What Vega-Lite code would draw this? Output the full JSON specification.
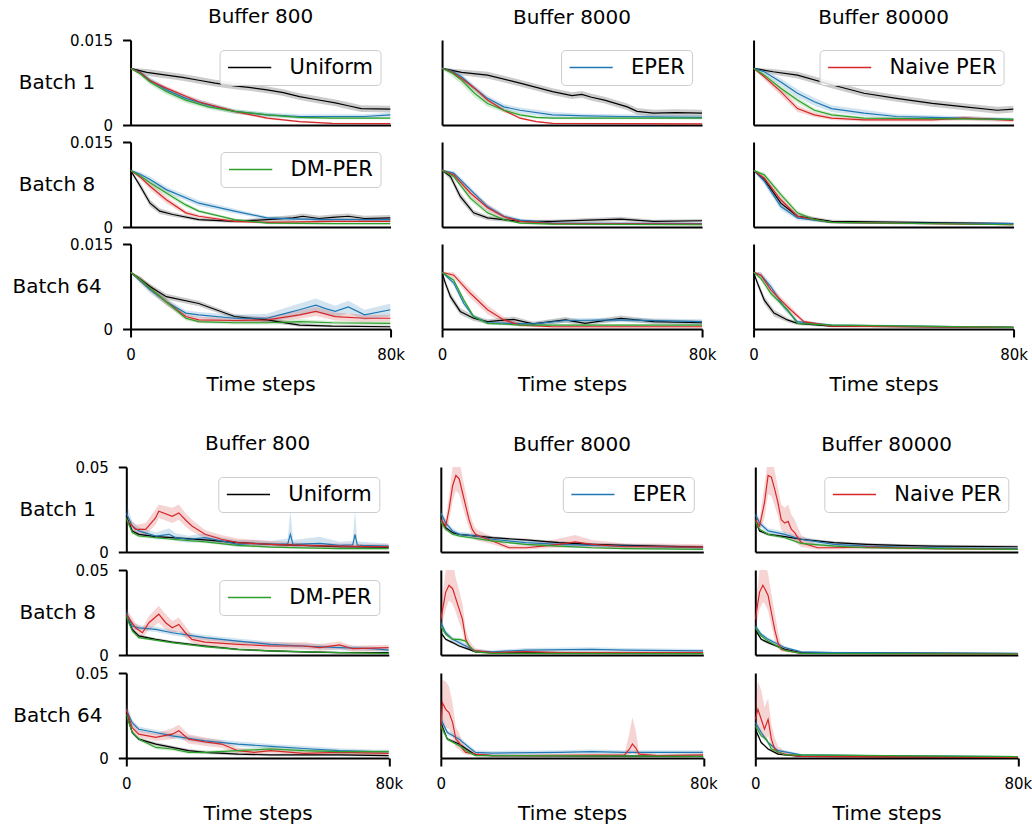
{
"$schema": "https://vega.github.io/schema/vega-lite/v6.json",
"padding": {"left": 11, "top": 7, "right": 2, "bottom": 2},
"data": {"values": [
{"p":"A11","s":"U","x":0,"y":0.01,"l":0.0099,"h":0.0101},
{"p":"A11","s":"U","x":5,"y":0.0093,"l":0.0087,"h":0.0099},
{"p":"A11","s":"U","x":11,"y":0.0088,"l":0.0082,"h":0.0094},
{"p":"A11","s":"U","x":16,"y":0.0084,"l":0.0078,"h":0.009},
{"p":"A11","s":"U","x":21,"y":0.0079,"l":0.0073,"h":0.0085},
{"p":"A11","s":"U","x":26,"y":0.0074,"l":0.0068,"h":0.008},
{"p":"A11","s":"U","x":32,"y":0.0069,"l":0.0063,"h":0.0075},
{"p":"A11","s":"U","x":37,"y":0.0066,"l":0.006,"h":0.0072},
{"p":"A11","s":"U","x":42,"y":0.0062,"l":0.0056,"h":0.0068},
{"p":"A11","s":"U","x":47,"y":0.0057,"l":0.0051,"h":0.0063},
{"p":"A11","s":"U","x":52,"y":0.005,"l":0.0044,"h":0.0056},
{"p":"A11","s":"U","x":57,"y":0.0045,"l":0.0039,"h":0.0051},
{"p":"A11","s":"U","x":63,"y":0.0039,"l":0.0033,"h":0.0045},
{"p":"A11","s":"U","x":67,"y":0.0034,"l":0.0028,"h":0.004},
{"p":"A11","s":"U","x":71,"y":0.0029,"l":0.0023,"h":0.0035},
{"p":"A11","s":"U","x":80,"y":0.0028,"l":0.0022,"h":0.0034},
{"p":"A11","s":"E","x":0,"y":0.01,"l":0.0099,"h":0.0101},
{"p":"A11","s":"E","x":3,"y":0.0093,"l":0.0089,"h":0.0097},
{"p":"A11","s":"E","x":6,"y":0.0079,"l":0.0074,"h":0.0084},
{"p":"A11","s":"E","x":11,"y":0.0062,"l":0.0057,"h":0.0067},
{"p":"A11","s":"E","x":17,"y":0.0047,"l":0.0042,"h":0.0052},
{"p":"A11","s":"E","x":24,"y":0.0035,"l":0.003,"h":0.004},
{"p":"A11","s":"E","x":32,"y":0.0024,"l":0.002,"h":0.0028},
{"p":"A11","s":"E","x":42,"y":0.0018,"l":0.0014,"h":0.0022},
{"p":"A11","s":"E","x":52,"y":0.0015,"l":0.0011,"h":0.0019},
{"p":"A11","s":"E","x":62,"y":0.0015,"l":0.0011,"h":0.0019},
{"p":"A11","s":"E","x":72,"y":0.0015,"l":0.0011,"h":0.0019},
{"p":"A11","s":"E","x":80,"y":0.0018,"l":0.0014,"h":0.0022},
{"p":"A11","s":"N","x":0,"y":0.01,"l":0.0099,"h":0.0101},
{"p":"A11","s":"N","x":3,"y":0.0092,"l":0.0089,"h":0.0095},
{"p":"A11","s":"N","x":6,"y":0.0078,"l":0.0074,"h":0.0082},
{"p":"A11","s":"N","x":11,"y":0.0065,"l":0.0061,"h":0.0069},
{"p":"A11","s":"N","x":21,"y":0.0041,"l":0.0037,"h":0.0045},
{"p":"A11","s":"N","x":32,"y":0.0024,"l":0.0021,"h":0.0027},
{"p":"A11","s":"N","x":42,"y":0.0012,"l":0.001,"h":0.0014},
{"p":"A11","s":"N","x":52,"y":0.0006,"l":0.00045,"h":0.00075},
{"p":"A11","s":"N","x":62,"y":0.0003,"l":0.0002,"h":0.0004},
{"p":"A11","s":"N","x":80,"y":0.00025,"l":0.00015,"h":0.00035},
{"p":"A11","s":"D","x":0,"y":0.01,"l":0.0099,"h":0.0101},
{"p":"A11","s":"D","x":3,"y":0.009,"l":0.0086,"h":0.0094},
{"p":"A11","s":"D","x":6,"y":0.0076,"l":0.0071,"h":0.0081},
{"p":"A11","s":"D","x":11,"y":0.0059,"l":0.0054,"h":0.0064},
{"p":"A11","s":"D","x":17,"y":0.0044,"l":0.0039,"h":0.0049},
{"p":"A11","s":"D","x":24,"y":0.0032,"l":0.0028,"h":0.0036},
{"p":"A11","s":"D","x":32,"y":0.0024,"l":0.002,"h":0.0028},
{"p":"A11","s":"D","x":42,"y":0.0018,"l":0.0015,"h":0.0021},
{"p":"A11","s":"D","x":52,"y":0.00135,"l":0.0011,"h":0.0016},
{"p":"A11","s":"D","x":62,"y":0.0012,"l":0.001,"h":0.0014},
{"p":"A11","s":"D","x":80,"y":0.0012,"l":0.001,"h":0.0014},
{"p":"A21","s":"U","x":0,"y":0.01,"l":0.0099,"h":0.0101},
{"p":"A21","s":"U","x":3,"y":0.0072,"l":0.0066,"h":0.0078},
{"p":"A21","s":"U","x":6,"y":0.0042,"l":0.0036,"h":0.0048},
{"p":"A21","s":"U","x":9,"y":0.0028,"l":0.0023,"h":0.0033},
{"p":"A21","s":"U","x":13,"y":0.0022,"l":0.0018,"h":0.0026},
{"p":"A21","s":"U","x":21,"y":0.0013,"l":0.001,"h":0.0016},
{"p":"A21","s":"U","x":32,"y":0.001,"l":0.0007,"h":0.0013},
{"p":"A21","s":"U","x":42,"y":0.0013,"l":0.0009,"h":0.0017},
{"p":"A21","s":"U","x":50,"y":0.0016,"l":0.0011,"h":0.0021},
{"p":"A21","s":"U","x":53,"y":0.0019,"l":0.0014,"h":0.0024},
{"p":"A21","s":"U","x":58,"y":0.0015,"l":0.001,"h":0.002},
{"p":"A21","s":"U","x":62,"y":0.0017,"l":0.0012,"h":0.0022},
{"p":"A21","s":"U","x":67,"y":0.0019,"l":0.0014,"h":0.0024},
{"p":"A21","s":"U","x":72,"y":0.0015,"l":0.001,"h":0.002},
{"p":"A21","s":"U","x":80,"y":0.0016,"l":0.0011,"h":0.0021},
{"p":"A21","s":"E","x":0,"y":0.01,"l":0.0099,"h":0.0101},
{"p":"A21","s":"E","x":3,"y":0.0093,"l":0.0089,"h":0.0097},
{"p":"A21","s":"E","x":6,"y":0.0084,"l":0.0079,"h":0.0089},
{"p":"A21","s":"E","x":11,"y":0.0066,"l":0.0061,"h":0.0071},
{"p":"A21","s":"E","x":21,"y":0.0042,"l":0.0037,"h":0.0047},
{"p":"A21","s":"E","x":32,"y":0.0028,"l":0.0024,"h":0.0032},
{"p":"A21","s":"E","x":42,"y":0.0016,"l":0.0013,"h":0.0019},
{"p":"A21","s":"E","x":52,"y":0.0014,"l":0.0011,"h":0.0017},
{"p":"A21","s":"E","x":62,"y":0.0013,"l":0.001,"h":0.0016},
{"p":"A21","s":"E","x":80,"y":0.0013,"l":0.001,"h":0.0016},
{"p":"A21","s":"N","x":0,"y":0.01,"l":0.0099,"h":0.0101},
{"p":"A21","s":"N","x":3,"y":0.0088,"l":0.0084,"h":0.0092},
{"p":"A21","s":"N","x":6,"y":0.0072,"l":0.0066,"h":0.0078},
{"p":"A21","s":"N","x":11,"y":0.0048,"l":0.0042,"h":0.0054},
{"p":"A21","s":"N","x":17,"y":0.0025,"l":0.0021,"h":0.0029},
{"p":"A21","s":"N","x":21,"y":0.0019,"l":0.0016,"h":0.0022},
{"p":"A21","s":"N","x":32,"y":0.001,"l":0.0008,"h":0.0012},
{"p":"A21","s":"N","x":42,"y":0.0008,"l":0.0006,"h":0.001},
{"p":"A21","s":"N","x":62,"y":0.001,"l":0.0008,"h":0.0012},
{"p":"A21","s":"N","x":80,"y":0.001,"l":0.0008,"h":0.0012},
{"p":"A21","s":"D","x":0,"y":0.01,"l":0.0099,"h":0.0101},
{"p":"A21","s":"D","x":3,"y":0.009,"l":0.0086,"h":0.0094},
{"p":"A21","s":"D","x":6,"y":0.0078,"l":0.0073,"h":0.0083},
{"p":"A21","s":"D","x":11,"y":0.006,"l":0.0055,"h":0.0065},
{"p":"A21","s":"D","x":17,"y":0.0039,"l":0.0035,"h":0.0043},
{"p":"A21","s":"D","x":21,"y":0.0028,"l":0.0025,"h":0.0031},
{"p":"A21","s":"D","x":32,"y":0.0013,"l":0.0011,"h":0.0015},
{"p":"A21","s":"D","x":42,"y":0.0007,"l":0.0005,"h":0.0009},
{"p":"A21","s":"D","x":62,"y":0.0006,"l":0.0004,"h":0.0008},
{"p":"A21","s":"D","x":80,"y":0.0006,"l":0.0004,"h":0.0008},
{"p":"A31","s":"U","x":0,"y":0.01,"l":0.0099,"h":0.0101},
{"p":"A31","s":"U","x":3,"y":0.0088,"l":0.0084,"h":0.0092},
{"p":"A31","s":"U","x":6,"y":0.0075,"l":0.007,"h":0.008},
{"p":"A31","s":"U","x":11,"y":0.0057,"l":0.0052,"h":0.0062},
{"p":"A31","s":"U","x":21,"y":0.0045,"l":0.004,"h":0.005},
{"p":"A31","s":"U","x":32,"y":0.0022,"l":0.0018,"h":0.0026},
{"p":"A31","s":"U","x":42,"y":0.0016,"l":0.0012,"h":0.002},
{"p":"A31","s":"U","x":52,"y":0.0007,"l":0.0004,"h":0.001},
{"p":"A31","s":"U","x":62,"y":0.0005,"l":0.0003,"h":0.0007},
{"p":"A31","s":"U","x":80,"y":0.0004,"l":0.0002,"h":0.0006},
{"p":"A31","s":"E","x":0,"y":0.01,"l":0.0099,"h":0.0101},
{"p":"A31","s":"E","x":3,"y":0.0085,"l":0.008,"h":0.009},
{"p":"A31","s":"E","x":6,"y":0.0069,"l":0.0063,"h":0.0075},
{"p":"A31","s":"E","x":11,"y":0.0048,"l":0.0042,"h":0.0054},
{"p":"A31","s":"E","x":17,"y":0.0028,"l":0.0023,"h":0.0033},
{"p":"A31","s":"E","x":21,"y":0.0025,"l":0.002,"h":0.003},
{"p":"A31","s":"E","x":32,"y":0.0019,"l":0.0013,"h":0.0025},
{"p":"A31","s":"E","x":42,"y":0.0019,"l":0.0011,"h":0.0027},
{"p":"A31","s":"E","x":48,"y":0.0028,"l":0.0018,"h":0.0038},
{"p":"A31","s":"E","x":52,"y":0.0034,"l":0.0023,"h":0.0045},
{"p":"A31","s":"E","x":57,"y":0.0042,"l":0.003,"h":0.0054},
{"p":"A31","s":"E","x":60,"y":0.0036,"l":0.0025,"h":0.0047},
{"p":"A31","s":"E","x":63,"y":0.0031,"l":0.0021,"h":0.0041},
{"p":"A31","s":"E","x":67,"y":0.0039,"l":0.0028,"h":0.005},
{"p":"A31","s":"E","x":72,"y":0.0025,"l":0.0016,"h":0.0034},
{"p":"A31","s":"E","x":80,"y":0.0034,"l":0.0023,"h":0.0045},
{"p":"A31","s":"N","x":0,"y":0.01,"l":0.0099,"h":0.0101},
{"p":"A31","s":"N","x":3,"y":0.0087,"l":0.0082,"h":0.0092},
{"p":"A31","s":"N","x":6,"y":0.0072,"l":0.0066,"h":0.0078},
{"p":"A31","s":"N","x":11,"y":0.0048,"l":0.0042,"h":0.0054},
{"p":"A31","s":"N","x":17,"y":0.0022,"l":0.0017,"h":0.0027},
{"p":"A31","s":"N","x":21,"y":0.0016,"l":0.0011,"h":0.0021},
{"p":"A31","s":"N","x":32,"y":0.0015,"l":0.001,"h":0.002},
{"p":"A31","s":"N","x":42,"y":0.0016,"l":0.001,"h":0.0022},
{"p":"A31","s":"N","x":52,"y":0.0025,"l":0.0018,"h":0.0032},
{"p":"A31","s":"N","x":57,"y":0.0031,"l":0.0023,"h":0.0039},
{"p":"A31","s":"N","x":63,"y":0.0022,"l":0.0015,"h":0.0029},
{"p":"A31","s":"N","x":72,"y":0.0019,"l":0.0013,"h":0.0025},
{"p":"A31","s":"N","x":80,"y":0.0019,"l":0.0013,"h":0.0025},
{"p":"A31","s":"D","x":0,"y":0.01,"l":0.0099,"h":0.0101},
{"p":"A31","s":"D","x":3,"y":0.0087,"l":0.0082,"h":0.0092},
{"p":"A31","s":"D","x":6,"y":0.0072,"l":0.0067,"h":0.0077},
{"p":"A31","s":"D","x":11,"y":0.0048,"l":0.0043,"h":0.0053},
{"p":"A31","s":"D","x":17,"y":0.0019,"l":0.0015,"h":0.0023},
{"p":"A31","s":"D","x":21,"y":0.0013,"l":0.001,"h":0.0016},
{"p":"A31","s":"D","x":32,"y":0.0011,"l":0.0008,"h":0.0014},
{"p":"A31","s":"D","x":42,"y":0.0011,"l":0.0008,"h":0.0014},
{"p":"A31","s":"D","x":52,"y":0.0013,"l":0.0009,"h":0.0017},
{"p":"A31","s":"D","x":62,"y":0.0011,"l":0.0008,"h":0.0014},
{"p":"A31","s":"D","x":80,"y":0.001,"l":0.0007,"h":0.0013},
{"p":"A12","s":"U","x":0,"y":0.01,"l":0.0099,"h":0.0101},
{"p":"A12","s":"U","x":6,"y":0.0093,"l":0.0088,"h":0.0098},
{"p":"A12","s":"U","x":14,"y":0.0088,"l":0.0082,"h":0.0094},
{"p":"A12","s":"U","x":24,"y":0.0074,"l":0.0068,"h":0.008},
{"p":"A12","s":"U","x":34,"y":0.0059,"l":0.0053,"h":0.0065},
{"p":"A12","s":"U","x":40,"y":0.0052,"l":0.0046,"h":0.0058},
{"p":"A12","s":"U","x":43,"y":0.0054,"l":0.0048,"h":0.006},
{"p":"A12","s":"U","x":46,"y":0.0049,"l":0.0043,"h":0.0055},
{"p":"A12","s":"U","x":50,"y":0.0044,"l":0.0038,"h":0.005},
{"p":"A12","s":"U","x":57,"y":0.0032,"l":0.0026,"h":0.0038},
{"p":"A12","s":"U","x":60,"y":0.0024,"l":0.0018,"h":0.003},
{"p":"A12","s":"U","x":65,"y":0.0021,"l":0.0015,"h":0.0027},
{"p":"A12","s":"U","x":72,"y":0.0022,"l":0.0016,"h":0.0028},
{"p":"A12","s":"U","x":80,"y":0.0021,"l":0.0015,"h":0.0027},
{"p":"A12","s":"E","x":0,"y":0.01,"l":0.0099,"h":0.0101},
{"p":"A12","s":"E","x":3,"y":0.0095,"l":0.0091,"h":0.0099},
{"p":"A12","s":"E","x":6,"y":0.0085,"l":0.008,"h":0.009},
{"p":"A12","s":"E","x":10,"y":0.0065,"l":0.006,"h":0.007},
{"p":"A12","s":"E","x":14,"y":0.0047,"l":0.0042,"h":0.0052},
{"p":"A12","s":"E","x":19,"y":0.0032,"l":0.0027,"h":0.0037},
{"p":"A12","s":"E","x":24,"y":0.0026,"l":0.0021,"h":0.0031},
{"p":"A12","s":"E","x":34,"y":0.0018,"l":0.0013,"h":0.0023},
{"p":"A12","s":"E","x":44,"y":0.0016,"l":0.0012,"h":0.002},
{"p":"A12","s":"E","x":55,"y":0.0015,"l":0.0011,"h":0.0019},
{"p":"A12","s":"E","x":80,"y":0.00135,"l":0.001,"h":0.0017},
{"p":"A12","s":"N","x":0,"y":0.01,"l":0.0099,"h":0.0101},
{"p":"A12","s":"N","x":3,"y":0.0094,"l":0.0091,"h":0.0097},
{"p":"A12","s":"N","x":6,"y":0.0082,"l":0.0078,"h":0.0086},
{"p":"A12","s":"N","x":10,"y":0.0065,"l":0.0061,"h":0.0069},
{"p":"A12","s":"N","x":14,"y":0.0044,"l":0.004,"h":0.0048},
{"p":"A12","s":"N","x":19,"y":0.0026,"l":0.0023,"h":0.0029},
{"p":"A12","s":"N","x":24,"y":0.0012,"l":0.001,"h":0.0014},
{"p":"A12","s":"N","x":29,"y":0.0006,"l":0.00045,"h":0.00075},
{"p":"A12","s":"N","x":34,"y":0.0003,"l":0.0002,"h":0.0004},
{"p":"A12","s":"N","x":80,"y":0.0002,"l":0.0001,"h":0.0003},
{"p":"A12","s":"D","x":0,"y":0.01,"l":0.0099,"h":0.0101},
{"p":"A12","s":"D","x":3,"y":0.0092,"l":0.0086,"h":0.0098},
{"p":"A12","s":"D","x":6,"y":0.0079,"l":0.0072,"h":0.0086},
{"p":"A12","s":"D","x":10,"y":0.0056,"l":0.0049,"h":0.0063},
{"p":"A12","s":"D","x":14,"y":0.0038,"l":0.0032,"h":0.0044},
{"p":"A12","s":"D","x":19,"y":0.0026,"l":0.0022,"h":0.003},
{"p":"A12","s":"D","x":24,"y":0.0018,"l":0.0015,"h":0.0021},
{"p":"A12","s":"D","x":29,"y":0.00135,"l":0.0011,"h":0.0016},
{"p":"A12","s":"D","x":34,"y":0.0012,"l":0.001,"h":0.0014},
{"p":"A12","s":"D","x":80,"y":0.0012,"l":0.001,"h":0.0014},
{"p":"A22","s":"U","x":0,"y":0.01,"l":0.0099,"h":0.0101},
{"p":"A22","s":"U","x":2.6,"y":0.0089,"l":0.0083,"h":0.0095},
{"p":"A22","s":"U","x":5.6,"y":0.0054,"l":0.0047,"h":0.0061},
{"p":"A22","s":"U","x":9.7,"y":0.0025,"l":0.002,"h":0.003},
{"p":"A22","s":"U","x":14,"y":0.0016,"l":0.0012,"h":0.002},
{"p":"A22","s":"U","x":24,"y":0.001,"l":0.0007,"h":0.0013},
{"p":"A22","s":"U","x":34,"y":0.001,"l":0.0007,"h":0.0013},
{"p":"A22","s":"U","x":45,"y":0.0012,"l":0.0008,"h":0.0016},
{"p":"A22","s":"U","x":55,"y":0.0014,"l":0.001,"h":0.0018},
{"p":"A22","s":"U","x":65,"y":0.001,"l":0.0007,"h":0.0013},
{"p":"A22","s":"U","x":80,"y":0.0011,"l":0.0008,"h":0.0014},
{"p":"A22","s":"E","x":0,"y":0.01,"l":0.0099,"h":0.0101},
{"p":"A22","s":"E","x":3.6,"y":0.0095,"l":0.0091,"h":0.0099},
{"p":"A22","s":"E","x":8.7,"y":0.0066,"l":0.0061,"h":0.0071},
{"p":"A22","s":"E","x":14,"y":0.0036,"l":0.0031,"h":0.0041},
{"p":"A22","s":"E","x":19,"y":0.0019,"l":0.0015,"h":0.0023},
{"p":"A22","s":"E","x":24,"y":0.0012,"l":0.0009,"h":0.0015},
{"p":"A22","s":"E","x":34,"y":0.0007,"l":0.0005,"h":0.0009},
{"p":"A22","s":"E","x":80,"y":0.0006,"l":0.0004,"h":0.0008},
{"p":"A22","s":"N","x":0,"y":0.01,"l":0.0099,"h":0.0101},
{"p":"A22","s":"N","x":3.6,"y":0.0092,"l":0.0088,"h":0.0096},
{"p":"A22","s":"N","x":8.7,"y":0.006,"l":0.0054,"h":0.0066},
{"p":"A22","s":"N","x":14,"y":0.0034,"l":0.0028,"h":0.004},
{"p":"A22","s":"N","x":19,"y":0.0018,"l":0.0014,"h":0.0022},
{"p":"A22","s":"N","x":24,"y":0.001,"l":0.0008,"h":0.0012},
{"p":"A22","s":"N","x":34,"y":0.0006,"l":0.0004,"h":0.0008},
{"p":"A22","s":"N","x":80,"y":0.0005,"l":0.0003,"h":0.0007},
{"p":"A22","s":"D","x":0,"y":0.01,"l":0.0099,"h":0.0101},
{"p":"A22","s":"D","x":3.6,"y":0.0089,"l":0.0085,"h":0.0093},
{"p":"A22","s":"D","x":8.7,"y":0.0051,"l":0.0046,"h":0.0056},
{"p":"A22","s":"D","x":14,"y":0.0025,"l":0.0021,"h":0.0029},
{"p":"A22","s":"D","x":19,"y":0.0013,"l":0.0011,"h":0.0015},
{"p":"A22","s":"D","x":24,"y":0.0007,"l":0.0005,"h":0.0009},
{"p":"A22","s":"D","x":34,"y":0.0005,"l":0.0003,"h":0.0007},
{"p":"A22","s":"D","x":80,"y":0.0004,"l":0.0002,"h":0.0006},
{"p":"A32","s":"U","x":0,"y":0.01,"l":0.0099,"h":0.0101},
{"p":"A32","s":"U","x":1,"y":0.0081,"l":0.0075,"h":0.0087},
{"p":"A32","s":"U","x":2.6,"y":0.0057,"l":0.005,"h":0.0064},
{"p":"A32","s":"U","x":5.6,"y":0.0031,"l":0.0025,"h":0.0037},
{"p":"A32","s":"U","x":9.7,"y":0.0019,"l":0.0014,"h":0.0024},
{"p":"A32","s":"U","x":14,"y":0.0013,"l":0.0009,"h":0.0017},
{"p":"A32","s":"U","x":22,"y":0.0017,"l":0.0012,"h":0.0022},
{"p":"A32","s":"U","x":28,"y":0.0009,"l":0.0005,"h":0.0013},
{"p":"A32","s":"U","x":38,"y":0.0016,"l":0.0011,"h":0.0021},
{"p":"A32","s":"U","x":44,"y":0.001,"l":0.0006,"h":0.0014},
{"p":"A32","s":"U","x":55,"y":0.0019,"l":0.0014,"h":0.0024},
{"p":"A32","s":"U","x":65,"y":0.0013,"l":0.0009,"h":0.0017},
{"p":"A32","s":"U","x":80,"y":0.0011,"l":0.0007,"h":0.0015},
{"p":"A32","s":"E","x":0,"y":0.01,"l":0.0099,"h":0.0101},
{"p":"A32","s":"E","x":3.6,"y":0.0081,"l":0.0076,"h":0.0086},
{"p":"A32","s":"E","x":6.7,"y":0.0045,"l":0.004,"h":0.005},
{"p":"A32","s":"E","x":9.7,"y":0.0022,"l":0.0018,"h":0.0026},
{"p":"A32","s":"E","x":14,"y":0.0011,"l":0.0008,"h":0.0014},
{"p":"A32","s":"E","x":28,"y":0.0009,"l":0.0006,"h":0.0012},
{"p":"A32","s":"E","x":38,"y":0.0015,"l":0.0011,"h":0.0019},
{"p":"A32","s":"E","x":55,"y":0.0016,"l":0.0012,"h":0.002},
{"p":"A32","s":"E","x":80,"y":0.0013,"l":0.0009,"h":0.0017},
{"p":"A32","s":"N","x":0,"y":0.01,"l":0.0099,"h":0.0101},
{"p":"A32","s":"N","x":3.6,"y":0.0095,"l":0.009,"h":0.01},
{"p":"A32","s":"N","x":8.7,"y":0.0063,"l":0.0055,"h":0.0071},
{"p":"A32","s":"N","x":14,"y":0.0034,"l":0.0026,"h":0.0042},
{"p":"A32","s":"N","x":19,"y":0.0016,"l":0.0011,"h":0.0021},
{"p":"A32","s":"N","x":24,"y":0.0007,"l":0.0004,"h":0.001},
{"p":"A32","s":"N","x":34,"y":0.0004,"l":0.0002,"h":0.0006},
{"p":"A32","s":"N","x":80,"y":0.0004,"l":0.0002,"h":0.0006},
{"p":"A32","s":"D","x":0,"y":0.01,"l":0.0099,"h":0.0101},
{"p":"A32","s":"D","x":3.6,"y":0.0086,"l":0.0082,"h":0.009},
{"p":"A32","s":"D","x":6.7,"y":0.0051,"l":0.0047,"h":0.0055},
{"p":"A32","s":"D","x":9.7,"y":0.0022,"l":0.0019,"h":0.0025},
{"p":"A32","s":"D","x":14,"y":0.001,"l":0.0008,"h":0.0012},
{"p":"A32","s":"D","x":24,"y":0.0007,"l":0.0005,"h":0.0009},
{"p":"A32","s":"D","x":80,"y":0.0007,"l":0.0005,"h":0.0009},
{"p":"A13","s":"U","x":0,"y":0.01,"l":0.0099,"h":0.0101},
{"p":"A13","s":"U","x":6,"y":0.0094,"l":0.0089,"h":0.0099},
{"p":"A13","s":"U","x":13.5,"y":0.0088,"l":0.0082,"h":0.0094},
{"p":"A13","s":"U","x":24,"y":0.0071,"l":0.0065,"h":0.0077},
{"p":"A13","s":"U","x":34,"y":0.0056,"l":0.005,"h":0.0062},
{"p":"A13","s":"U","x":44,"y":0.0047,"l":0.0041,"h":0.0053},
{"p":"A13","s":"U","x":55,"y":0.0038,"l":0.0032,"h":0.0044},
{"p":"A13","s":"U","x":65,"y":0.0032,"l":0.0026,"h":0.0038},
{"p":"A13","s":"U","x":75,"y":0.0026,"l":0.002,"h":0.0032},
{"p":"A13","s":"U","x":80,"y":0.0028,"l":0.0022,"h":0.0034},
{"p":"A13","s":"E","x":0,"y":0.01,"l":0.0099,"h":0.0101},
{"p":"A13","s":"E","x":3.3,"y":0.0094,"l":0.009,"h":0.0098},
{"p":"A13","s":"E","x":8.4,"y":0.0076,"l":0.007,"h":0.0082},
{"p":"A13","s":"E","x":13.5,"y":0.0056,"l":0.0049,"h":0.0063},
{"p":"A13","s":"E","x":18.7,"y":0.0041,"l":0.0034,"h":0.0048},
{"p":"A13","s":"E","x":24,"y":0.0029,"l":0.0023,"h":0.0035},
{"p":"A13","s":"E","x":34,"y":0.0021,"l":0.0015,"h":0.0027},
{"p":"A13","s":"E","x":44,"y":0.0015,"l":0.0011,"h":0.0019},
{"p":"A13","s":"E","x":55,"y":0.00135,"l":0.001,"h":0.0017},
{"p":"A13","s":"E","x":80,"y":0.001,"l":0.0007,"h":0.0013},
{"p":"A13","s":"N","x":0,"y":0.01,"l":0.0099,"h":0.0101},
{"p":"A13","s":"N","x":3.3,"y":0.0085,"l":0.008,"h":0.009},
{"p":"A13","s":"N","x":8.4,"y":0.0059,"l":0.0052,"h":0.0066},
{"p":"A13","s":"N","x":13.5,"y":0.0029,"l":0.0023,"h":0.0035},
{"p":"A13","s":"N","x":18.7,"y":0.0018,"l":0.0014,"h":0.0022},
{"p":"A13","s":"N","x":24,"y":0.0012,"l":0.0009,"h":0.0015},
{"p":"A13","s":"N","x":34,"y":0.0009,"l":0.0006,"h":0.0012},
{"p":"A13","s":"N","x":55,"y":0.0009,"l":0.0006,"h":0.0012},
{"p":"A13","s":"N","x":65,"y":0.0012,"l":0.0008,"h":0.0016},
{"p":"A13","s":"N","x":80,"y":0.0008,"l":0.0005,"h":0.0011},
{"p":"A13","s":"D","x":0,"y":0.01,"l":0.0099,"h":0.0101},
{"p":"A13","s":"D","x":3.3,"y":0.0088,"l":0.0084,"h":0.0092},
{"p":"A13","s":"D","x":8.4,"y":0.0065,"l":0.006,"h":0.007},
{"p":"A13","s":"D","x":13.5,"y":0.0044,"l":0.0039,"h":0.0049},
{"p":"A13","s":"D","x":18.7,"y":0.0026,"l":0.0022,"h":0.003},
{"p":"A13","s":"D","x":24,"y":0.0018,"l":0.0015,"h":0.0021},
{"p":"A13","s":"D","x":34,"y":0.0012,"l":0.001,"h":0.0014},
{"p":"A13","s":"D","x":80,"y":0.001,"l":0.0008,"h":0.0012},
{"p":"A23","s":"U","x":0,"y":0.01,"l":0.0099,"h":0.0101},
{"p":"A23","s":"U","x":3.3,"y":0.0084,"l":0.0079,"h":0.0089},
{"p":"A23","s":"U","x":8.4,"y":0.0042,"l":0.0036,"h":0.0048},
{"p":"A23","s":"U","x":13.5,"y":0.0019,"l":0.0015,"h":0.0023},
{"p":"A23","s":"U","x":24,"y":0.001,"l":0.0007,"h":0.0013},
{"p":"A23","s":"U","x":80,"y":0.0006,"l":0.0004,"h":0.0008},
{"p":"A23","s":"E","x":0,"y":0.01,"l":0.0099,"h":0.0101},
{"p":"A23","s":"E","x":3.3,"y":0.0081,"l":0.0075,"h":0.0087},
{"p":"A23","s":"E","x":8.4,"y":0.0036,"l":0.003,"h":0.0042},
{"p":"A23","s":"E","x":13.5,"y":0.0016,"l":0.0012,"h":0.002},
{"p":"A23","s":"E","x":24,"y":0.0008,"l":0.0006,"h":0.001},
{"p":"A23","s":"E","x":44,"y":0.0007,"l":0.0005,"h":0.0009},
{"p":"A23","s":"E","x":80,"y":0.0006,"l":0.0004,"h":0.0008},
{"p":"A23","s":"N","x":0,"y":0.01,"l":0.0099,"h":0.0101},
{"p":"A23","s":"N","x":3.3,"y":0.0086,"l":0.0081,"h":0.0091},
{"p":"A23","s":"N","x":8.4,"y":0.0048,"l":0.0042,"h":0.0054},
{"p":"A23","s":"N","x":13.5,"y":0.0019,"l":0.0015,"h":0.0023},
{"p":"A23","s":"N","x":24,"y":0.0008,"l":0.0006,"h":0.001},
{"p":"A23","s":"N","x":80,"y":0.0004,"l":0.0003,"h":0.0005},
{"p":"A23","s":"D","x":0,"y":0.01,"l":0.0099,"h":0.0101},
{"p":"A23","s":"D","x":3.3,"y":0.0092,"l":0.0088,"h":0.0096},
{"p":"A23","s":"D","x":8.4,"y":0.0057,"l":0.0052,"h":0.0062},
{"p":"A23","s":"D","x":13.5,"y":0.0025,"l":0.0021,"h":0.0029},
{"p":"A23","s":"D","x":18.7,"y":0.0013,"l":0.001,"h":0.0016},
{"p":"A23","s":"D","x":24,"y":0.0008,"l":0.0006,"h":0.001},
{"p":"A23","s":"D","x":80,"y":0.0004,"l":0.0003,"h":0.0005},
{"p":"A33","s":"U","x":0,"y":0.01,"l":0.0099,"h":0.0101},
{"p":"A33","s":"U","x":1.2,"y":0.0081,"l":0.0075,"h":0.0087},
{"p":"A33","s":"U","x":3.3,"y":0.0051,"l":0.0044,"h":0.0058},
{"p":"A33","s":"U","x":6.3,"y":0.0028,"l":0.0022,"h":0.0034},
{"p":"A33","s":"U","x":10.4,"y":0.0016,"l":0.0012,"h":0.002},
{"p":"A33","s":"U","x":13.5,"y":0.001,"l":0.0007,"h":0.0013},
{"p":"A33","s":"U","x":24,"y":0.0005,"l":0.0003,"h":0.0007},
{"p":"A33","s":"U","x":80,"y":0.0003,"l":0.0002,"h":0.0004},
{"p":"A33","s":"E","x":0,"y":0.01,"l":0.0099,"h":0.0101},
{"p":"A33","s":"E","x":2.3,"y":0.0095,"l":0.009,"h":0.01},
{"p":"A33","s":"E","x":5.3,"y":0.0075,"l":0.0069,"h":0.0081},
{"p":"A33","s":"E","x":9.4,"y":0.0039,"l":0.0033,"h":0.0045},
{"p":"A33","s":"E","x":13.5,"y":0.0013,"l":0.001,"h":0.0016},
{"p":"A33","s":"E","x":24,"y":0.0007,"l":0.0005,"h":0.0009},
{"p":"A33","s":"E","x":80,"y":0.0003,"l":0.0002,"h":0.0004},
{"p":"A33","s":"N","x":0,"y":0.01,"l":0.0099,"h":0.0101},
{"p":"A33","s":"N","x":2.3,"y":0.0095,"l":0.009,"h":0.01},
{"p":"A33","s":"N","x":5.3,"y":0.0069,"l":0.0063,"h":0.0075},
{"p":"A33","s":"N","x":8.4,"y":0.0051,"l":0.0045,"h":0.0057},
{"p":"A33","s":"N","x":11.4,"y":0.0034,"l":0.0028,"h":0.004},
{"p":"A33","s":"N","x":15.5,"y":0.0013,"l":0.001,"h":0.0016},
{"p":"A33","s":"N","x":24,"y":0.0005,"l":0.0003,"h":0.0007},
{"p":"A33","s":"N","x":80,"y":0.0003,"l":0.0002,"h":0.0004},
{"p":"A33","s":"D","x":0,"y":0.01,"l":0.0099,"h":0.0101},
{"p":"A33","s":"D","x":2.3,"y":0.0089,"l":0.0085,"h":0.0093},
{"p":"A33","s":"D","x":5.3,"y":0.0063,"l":0.0058,"h":0.0068},
{"p":"A33","s":"D","x":10.4,"y":0.0034,"l":0.003,"h":0.0038},
{"p":"A33","s":"D","x":13.5,"y":0.001,"l":0.0008,"h":0.0012},
{"p":"A33","s":"D","x":24,"y":0.0007,"l":0.0005,"h":0.0009},
{"p":"A33","s":"D","x":80,"y":0.0003,"l":0.0002,"h":0.0004},
{"p":"B11","s":"U","x":0,"y":0.021,"l":0.019,"h":0.023},
{"p":"B11","s":"U","x":1.8,"y":0.0124,"l":0.0114,"h":0.0134},
{"p":"B11","s":"U","x":3.8,"y":0.0104,"l":0.0096,"h":0.0112},
{"p":"B11","s":"U","x":9,"y":0.009,"l":0.0082,"h":0.0098},
{"p":"B11","s":"U","x":14,"y":0.0084,"l":0.0076,"h":0.0092},
{"p":"B11","s":"U","x":24,"y":0.0071,"l":0.0063,"h":0.0079},
{"p":"B11","s":"U","x":34,"y":0.0055,"l":0.0047,"h":0.0063},
{"p":"B11","s":"U","x":44,"y":0.0045,"l":0.0037,"h":0.0053},
{"p":"B11","s":"U","x":54,"y":0.0039,"l":0.0031,"h":0.0047},
{"p":"B11","s":"U","x":65,"y":0.0031,"l":0.0023,"h":0.0039},
{"p":"B11","s":"U","x":80,"y":0.0029,"l":0.0021,"h":0.0037},
{"p":"B11","s":"E","x":0,"y":0.023,"l":0.019,"h":0.029},
{"p":"B11","s":"E","x":1.8,"y":0.0153,"l":0.013,"h":0.018},
{"p":"B11","s":"E","x":3.8,"y":0.0124,"l":0.0105,"h":0.0145},
{"p":"B11","s":"E","x":9,"y":0.0094,"l":0.0075,"h":0.0115},
{"p":"B11","s":"E","x":13,"y":0.0104,"l":0.008,"h":0.014},
{"p":"B11","s":"E","x":15,"y":0.0085,"l":0.0065,"h":0.011},
{"p":"B11","s":"E","x":19,"y":0.0075,"l":0.0055,"h":0.0095},
{"p":"B11","s":"E","x":24,"y":0.0084,"l":0.006,"h":0.011},
{"p":"B11","s":"E","x":29,"y":0.0065,"l":0.0045,"h":0.0085},
{"p":"B11","s":"E","x":34,"y":0.0045,"l":0.003,"h":0.007},
{"p":"B11","s":"E","x":39,"y":0.0051,"l":0.0035,"h":0.007},
{"p":"B11","s":"E","x":44,"y":0.0045,"l":0.003,"h":0.0065},
{"p":"B11","s":"E","x":49.2,"y":0.0048,"l":0.003,"h":0.008},
{"p":"B11","s":"E","x":50,"y":0.0104,"l":0.005,"h":0.025},
{"p":"B11","s":"E","x":50.8,"y":0.0045,"l":0.003,"h":0.007},
{"p":"B11","s":"E","x":59,"y":0.0051,"l":0.003,"h":0.009},
{"p":"B11","s":"E","x":65,"y":0.0039,"l":0.0025,"h":0.006},
{"p":"B11","s":"E","x":69,"y":0.0042,"l":0.0028,"h":0.0065},
{"p":"B11","s":"E","x":69.7,"y":0.0104,"l":0.005,"h":0.025},
{"p":"B11","s":"E","x":70.4,"y":0.0041,"l":0.0027,"h":0.0063},
{"p":"B11","s":"E","x":72,"y":0.0039,"l":0.0025,"h":0.006},
{"p":"B11","s":"E","x":80,"y":0.0035,"l":0.002,"h":0.005},
{"p":"B11","s":"N","x":0,"y":0.019,"l":0.017,"h":0.022},
{"p":"B11","s":"N","x":2.8,"y":0.0133,"l":0.011,"h":0.016},
{"p":"B11","s":"N","x":5.9,"y":0.0133,"l":0.01,"h":0.017},
{"p":"B11","s":"N","x":8.9,"y":0.02,"l":0.016,"h":0.025},
{"p":"B11","s":"N","x":9.9,"y":0.024,"l":0.02,"h":0.028},
{"p":"B11","s":"N","x":14,"y":0.021,"l":0.017,"h":0.026},
{"p":"B11","s":"N","x":16,"y":0.023,"l":0.019,"h":0.028},
{"p":"B11","s":"N","x":18,"y":0.019,"l":0.015,"h":0.023},
{"p":"B11","s":"N","x":20,"y":0.0153,"l":0.012,"h":0.019},
{"p":"B11","s":"N","x":24,"y":0.0104,"l":0.008,"h":0.013},
{"p":"B11","s":"N","x":29,"y":0.0075,"l":0.005,"h":0.01},
{"p":"B11","s":"N","x":34,"y":0.0055,"l":0.004,"h":0.008},
{"p":"B11","s":"N","x":44,"y":0.0045,"l":0.003,"h":0.0065},
{"p":"B11","s":"N","x":54,"y":0.0039,"l":0.0025,"h":0.0055},
{"p":"B11","s":"N","x":65,"y":0.0035,"l":0.0023,"h":0.005},
{"p":"B11","s":"N","x":80,"y":0.0031,"l":0.002,"h":0.0045},
{"p":"B11","s":"D","x":0,"y":0.02,"l":0.018,"h":0.022},
{"p":"B11","s":"D","x":1.8,"y":0.0114,"l":0.0106,"h":0.0122},
{"p":"B11","s":"D","x":3.8,"y":0.0094,"l":0.0086,"h":0.0102},
{"p":"B11","s":"D","x":14,"y":0.0075,"l":0.0067,"h":0.0083},
{"p":"B11","s":"D","x":24,"y":0.0059,"l":0.0051,"h":0.0067},
{"p":"B11","s":"D","x":34,"y":0.0039,"l":0.0031,"h":0.0047},
{"p":"B11","s":"D","x":44,"y":0.0029,"l":0.0022,"h":0.0036},
{"p":"B11","s":"D","x":54,"y":0.0024,"l":0.0018,"h":0.003},
{"p":"B11","s":"D","x":65,"y":0.002,"l":0.0014,"h":0.0026},
{"p":"B11","s":"D","x":80,"y":0.002,"l":0.0014,"h":0.0026},
{"p":"B21","s":"U","x":0,"y":0.023,"l":0.021,"h":0.025},
{"p":"B21","s":"U","x":1.8,"y":0.0151,"l":0.0141,"h":0.0161},
{"p":"B21","s":"U","x":3.8,"y":0.0112,"l":0.0104,"h":0.012},
{"p":"B21","s":"U","x":9,"y":0.0092,"l":0.0084,"h":0.01},
{"p":"B21","s":"U","x":14,"y":0.0076,"l":0.0068,"h":0.0084},
{"p":"B21","s":"U","x":24,"y":0.0053,"l":0.0045,"h":0.0061},
{"p":"B21","s":"U","x":34,"y":0.0033,"l":0.0026,"h":0.004},
{"p":"B21","s":"U","x":44,"y":0.0024,"l":0.0018,"h":0.003},
{"p":"B21","s":"U","x":54,"y":0.0018,"l":0.0012,"h":0.0024},
{"p":"B21","s":"U","x":65,"y":0.0014,"l":0.0009,"h":0.0019},
{"p":"B21","s":"U","x":80,"y":0.0014,"l":0.0009,"h":0.0019},
{"p":"B21","s":"E","x":0,"y":0.025,"l":0.022,"h":0.028},
{"p":"B21","s":"E","x":1.8,"y":0.017,"l":0.015,"h":0.019},
{"p":"B21","s":"E","x":3.8,"y":0.016,"l":0.0145,"h":0.0175},
{"p":"B21","s":"E","x":9,"y":0.0151,"l":0.0135,"h":0.0167},
{"p":"B21","s":"E","x":14,"y":0.0131,"l":0.0116,"h":0.0146},
{"p":"B21","s":"E","x":24,"y":0.0102,"l":0.0087,"h":0.0117},
{"p":"B21","s":"E","x":34,"y":0.0082,"l":0.0067,"h":0.0097},
{"p":"B21","s":"E","x":44,"y":0.0063,"l":0.0048,"h":0.0078},
{"p":"B21","s":"E","x":54,"y":0.0053,"l":0.0038,"h":0.0068},
{"p":"B21","s":"E","x":65,"y":0.0043,"l":0.0028,"h":0.0058},
{"p":"B21","s":"E","x":75,"y":0.0037,"l":0.0024,"h":0.005},
{"p":"B21","s":"E","x":80,"y":0.0029,"l":0.0017,"h":0.0041},
{"p":"B21","s":"N","x":0,"y":0.024,"l":0.021,"h":0.027},
{"p":"B21","s":"N","x":2.8,"y":0.016,"l":0.013,"h":0.019},
{"p":"B21","s":"N","x":4.9,"y":0.0131,"l":0.01,"h":0.016},
{"p":"B21","s":"N","x":6.9,"y":0.019,"l":0.015,"h":0.023},
{"p":"B21","s":"N","x":9.9,"y":0.024,"l":0.019,"h":0.029},
{"p":"B21","s":"N","x":12,"y":0.019,"l":0.015,"h":0.024},
{"p":"B21","s":"N","x":14,"y":0.016,"l":0.013,"h":0.02},
{"p":"B21","s":"N","x":16,"y":0.018,"l":0.014,"h":0.022},
{"p":"B21","s":"N","x":18,"y":0.0131,"l":0.01,"h":0.017},
{"p":"B21","s":"N","x":20,"y":0.0092,"l":0.007,"h":0.012},
{"p":"B21","s":"N","x":24,"y":0.0076,"l":0.0055,"h":0.01},
{"p":"B21","s":"N","x":34,"y":0.0063,"l":0.0043,"h":0.0085},
{"p":"B21","s":"N","x":44,"y":0.0053,"l":0.0033,"h":0.0075},
{"p":"B21","s":"N","x":54,"y":0.0053,"l":0.0033,"h":0.0075},
{"p":"B21","s":"N","x":59,"y":0.0043,"l":0.0025,"h":0.0065},
{"p":"B21","s":"N","x":65,"y":0.0059,"l":0.0035,"h":0.008},
{"p":"B21","s":"N","x":69,"y":0.0037,"l":0.002,"h":0.0055},
{"p":"B21","s":"N","x":80,"y":0.0043,"l":0.0025,"h":0.006},
{"p":"B21","s":"D","x":0,"y":0.023,"l":0.021,"h":0.025},
{"p":"B21","s":"D","x":1.8,"y":0.0141,"l":0.0134,"h":0.0148},
{"p":"B21","s":"D","x":3.8,"y":0.0102,"l":0.0095,"h":0.0109},
{"p":"B21","s":"D","x":14,"y":0.0073,"l":0.0066,"h":0.008},
{"p":"B21","s":"D","x":24,"y":0.0049,"l":0.0042,"h":0.0056},
{"p":"B21","s":"D","x":34,"y":0.0033,"l":0.0027,"h":0.0039},
{"p":"B21","s":"D","x":44,"y":0.0024,"l":0.0018,"h":0.003},
{"p":"B21","s":"D","x":65,"y":0.0014,"l":0.0009,"h":0.0019},
{"p":"B21","s":"D","x":80,"y":0.001,"l":0.0006,"h":0.0014},
{"p":"B31","s":"U","x":0,"y":0.0267,"l":0.024,"h":0.029},
{"p":"B31","s":"U","x":1.8,"y":0.015,"l":0.014,"h":0.016},
{"p":"B31","s":"U","x":3.8,"y":0.0111,"l":0.0101,"h":0.0121},
{"p":"B31","s":"U","x":9,"y":0.0082,"l":0.0072,"h":0.0092},
{"p":"B31","s":"U","x":14,"y":0.0062,"l":0.0052,"h":0.0072},
{"p":"B31","s":"U","x":19,"y":0.0043,"l":0.0033,"h":0.0053},
{"p":"B31","s":"U","x":24,"y":0.0033,"l":0.0024,"h":0.0042},
{"p":"B31","s":"U","x":34,"y":0.0023,"l":0.0015,"h":0.0031},
{"p":"B31","s":"U","x":44,"y":0.0018,"l":0.0011,"h":0.0025},
{"p":"B31","s":"U","x":65,"y":0.0018,"l":0.0011,"h":0.0025},
{"p":"B31","s":"U","x":80,"y":0.0014,"l":0.0008,"h":0.002},
{"p":"B31","s":"E","x":0,"y":0.0286,"l":0.025,"h":0.032},
{"p":"B31","s":"E","x":1.8,"y":0.0208,"l":0.019,"h":0.0226},
{"p":"B31","s":"E","x":3.8,"y":0.0169,"l":0.0153,"h":0.0185},
{"p":"B31","s":"E","x":9,"y":0.015,"l":0.0135,"h":0.0165},
{"p":"B31","s":"E","x":14,"y":0.013,"l":0.0115,"h":0.0145},
{"p":"B31","s":"E","x":24,"y":0.0101,"l":0.0086,"h":0.0116},
{"p":"B31","s":"E","x":34,"y":0.0082,"l":0.0067,"h":0.0097},
{"p":"B31","s":"E","x":44,"y":0.0068,"l":0.0053,"h":0.0083},
{"p":"B31","s":"E","x":54,"y":0.0056,"l":0.0041,"h":0.0071},
{"p":"B31","s":"E","x":65,"y":0.0043,"l":0.0028,"h":0.0058},
{"p":"B31","s":"E","x":75,"y":0.0037,"l":0.0024,"h":0.005},
{"p":"B31","s":"E","x":80,"y":0.0037,"l":0.0024,"h":0.005},
{"p":"B31","s":"N","x":0,"y":0.0286,"l":0.025,"h":0.032},
{"p":"B31","s":"N","x":1.8,"y":0.0179,"l":0.016,"h":0.02},
{"p":"B31","s":"N","x":3.8,"y":0.014,"l":0.012,"h":0.016},
{"p":"B31","s":"N","x":9,"y":0.0121,"l":0.01,"h":0.0145},
{"p":"B31","s":"N","x":14,"y":0.014,"l":0.011,"h":0.0175},
{"p":"B31","s":"N","x":16,"y":0.016,"l":0.0125,"h":0.0195},
{"p":"B31","s":"N","x":19,"y":0.0111,"l":0.0085,"h":0.014},
{"p":"B31","s":"N","x":24,"y":0.0095,"l":0.007,"h":0.012},
{"p":"B31","s":"N","x":29,"y":0.0082,"l":0.006,"h":0.0105},
{"p":"B31","s":"N","x":34,"y":0.0043,"l":0.0028,"h":0.006},
{"p":"B31","s":"N","x":39,"y":0.0033,"l":0.002,"h":0.0048},
{"p":"B31","s":"N","x":44,"y":0.0043,"l":0.0028,"h":0.006},
{"p":"B31","s":"N","x":54,"y":0.0027,"l":0.0016,"h":0.004},
{"p":"B31","s":"N","x":65,"y":0.0033,"l":0.002,"h":0.0046},
{"p":"B31","s":"N","x":80,"y":0.0027,"l":0.0016,"h":0.004},
{"p":"B31","s":"D","x":0,"y":0.0257,"l":0.023,"h":0.028},
{"p":"B31","s":"D","x":1.8,"y":0.015,"l":0.014,"h":0.016},
{"p":"B31","s":"D","x":3.8,"y":0.0111,"l":0.0101,"h":0.0121},
{"p":"B31","s":"D","x":9,"y":0.0062,"l":0.0052,"h":0.0072},
{"p":"B31","s":"D","x":14,"y":0.0053,"l":0.0043,"h":0.0063},
{"p":"B31","s":"D","x":19,"y":0.0033,"l":0.0024,"h":0.0042},
{"p":"B31","s":"D","x":24,"y":0.0033,"l":0.0024,"h":0.0042},
{"p":"B31","s":"D","x":34,"y":0.0043,"l":0.0032,"h":0.0054},
{"p":"B31","s":"D","x":44,"y":0.0053,"l":0.004,"h":0.0066},
{"p":"B31","s":"D","x":54,"y":0.0043,"l":0.0032,"h":0.0054},
{"p":"B31","s":"D","x":65,"y":0.0037,"l":0.0027,"h":0.0047},
{"p":"B31","s":"D","x":80,"y":0.0037,"l":0.0027,"h":0.0047},
{"p":"B12","s":"U","x":0,"y":0.019,"l":0.017,"h":0.021},
{"p":"B12","s":"U","x":1.5,"y":0.0143,"l":0.0133,"h":0.0153},
{"p":"B12","s":"U","x":3.6,"y":0.0114,"l":0.0106,"h":0.0122},
{"p":"B12","s":"U","x":5.6,"y":0.0104,"l":0.0096,"h":0.0112},
{"p":"B12","s":"U","x":15.7,"y":0.0084,"l":0.0076,"h":0.0092},
{"p":"B12","s":"U","x":25.9,"y":0.0071,"l":0.0063,"h":0.0079},
{"p":"B12","s":"U","x":36,"y":0.0055,"l":0.0047,"h":0.0063},
{"p":"B12","s":"U","x":46,"y":0.0045,"l":0.0037,"h":0.0053},
{"p":"B12","s":"U","x":56,"y":0.0039,"l":0.0031,"h":0.0047},
{"p":"B12","s":"U","x":66,"y":0.0035,"l":0.0027,"h":0.0043},
{"p":"B12","s":"U","x":80,"y":0.0029,"l":0.0021,"h":0.0037},
{"p":"B12","s":"E","x":0,"y":0.023,"l":0.02,"h":0.026},
{"p":"B12","s":"E","x":1.5,"y":0.017,"l":0.015,"h":0.019},
{"p":"B12","s":"E","x":3.6,"y":0.0124,"l":0.0109,"h":0.0139},
{"p":"B12","s":"E","x":5.6,"y":0.0104,"l":0.0089,"h":0.0119},
{"p":"B12","s":"E","x":10.6,"y":0.0094,"l":0.0079,"h":0.0109},
{"p":"B12","s":"E","x":15.7,"y":0.0075,"l":0.006,"h":0.009},
{"p":"B12","s":"E","x":25.9,"y":0.0055,"l":0.004,"h":0.007},
{"p":"B12","s":"E","x":36,"y":0.0045,"l":0.003,"h":0.006},
{"p":"B12","s":"E","x":46,"y":0.0039,"l":0.0025,"h":0.0053},
{"p":"B12","s":"E","x":56,"y":0.0035,"l":0.0022,"h":0.0048},
{"p":"B12","s":"E","x":80,"y":0.0025,"l":0.0013,"h":0.0037},
{"p":"B12","s":"N","x":0,"y":0.019,"l":0.016,"h":0.023},
{"p":"B12","s":"N","x":1.5,"y":0.0153,"l":0.012,"h":0.019},
{"p":"B12","s":"N","x":2.5,"y":0.025,"l":0.018,"h":0.033},
{"p":"B12","s":"N","x":3.6,"y":0.039,"l":0.03,"h":0.05},
{"p":"B12","s":"N","x":4.6,"y":0.045,"l":0.036,"h":0.055},
{"p":"B12","s":"N","x":5.6,"y":0.043,"l":0.034,"h":0.055},
{"p":"B12","s":"N","x":6.6,"y":0.035,"l":0.027,"h":0.044},
{"p":"B12","s":"N","x":7.6,"y":0.027,"l":0.02,"h":0.035},
{"p":"B12","s":"N","x":8.6,"y":0.019,"l":0.014,"h":0.025},
{"p":"B12","s":"N","x":9.6,"y":0.0133,"l":0.009,"h":0.018},
{"p":"B12","s":"N","x":10.6,"y":0.0104,"l":0.007,"h":0.014},
{"p":"B12","s":"N","x":11.7,"y":0.0094,"l":0.0065,"h":0.0125},
{"p":"B12","s":"N","x":15.7,"y":0.0065,"l":0.0045,"h":0.009},
{"p":"B12","s":"N","x":20.8,"y":0.0025,"l":0.0015,"h":0.004},
{"p":"B12","s":"N","x":26,"y":0.0025,"l":0.0015,"h":0.004},
{"p":"B12","s":"N","x":31,"y":0.0035,"l":0.002,"h":0.006},
{"p":"B12","s":"N","x":36,"y":0.0045,"l":0.0025,"h":0.008},
{"p":"B12","s":"N","x":41,"y":0.0059,"l":0.003,"h":0.01},
{"p":"B12","s":"N","x":46,"y":0.0045,"l":0.0025,"h":0.007},
{"p":"B12","s":"N","x":56,"y":0.0031,"l":0.0018,"h":0.005},
{"p":"B12","s":"N","x":66,"y":0.0031,"l":0.0018,"h":0.005},
{"p":"B12","s":"N","x":80,"y":0.0029,"l":0.0018,"h":0.0045},
{"p":"B12","s":"D","x":0,"y":0.018,"l":0.016,"h":0.02},
{"p":"B12","s":"D","x":1.5,"y":0.0133,"l":0.0125,"h":0.0141},
{"p":"B12","s":"D","x":3.6,"y":0.0104,"l":0.0096,"h":0.0112},
{"p":"B12","s":"D","x":5.6,"y":0.0094,"l":0.0086,"h":0.0102},
{"p":"B12","s":"D","x":15.7,"y":0.0065,"l":0.0057,"h":0.0073},
{"p":"B12","s":"D","x":25.9,"y":0.0045,"l":0.0038,"h":0.0052},
{"p":"B12","s":"D","x":36,"y":0.0035,"l":0.0028,"h":0.0042},
{"p":"B12","s":"D","x":46,"y":0.0025,"l":0.0019,"h":0.0031},
{"p":"B12","s":"D","x":56,"y":0.002,"l":0.0014,"h":0.0026},
{"p":"B12","s":"D","x":80,"y":0.0016,"l":0.0011,"h":0.0021},
{"p":"B22","s":"U","x":0,"y":0.0131,"l":0.012,"h":0.0142},
{"p":"B22","s":"U","x":1.5,"y":0.0092,"l":0.0084,"h":0.01},
{"p":"B22","s":"U","x":3.6,"y":0.0073,"l":0.0065,"h":0.0081},
{"p":"B22","s":"U","x":5.6,"y":0.0053,"l":0.0045,"h":0.0061},
{"p":"B22","s":"U","x":8.6,"y":0.0033,"l":0.0026,"h":0.004},
{"p":"B22","s":"U","x":10.6,"y":0.0018,"l":0.0012,"h":0.0024},
{"p":"B22","s":"U","x":15.7,"y":0.0014,"l":0.0009,"h":0.0019},
{"p":"B22","s":"U","x":36,"y":0.0014,"l":0.0009,"h":0.0019},
{"p":"B22","s":"U","x":80,"y":0.001,"l":0.0006,"h":0.0014},
{"p":"B22","s":"E","x":0,"y":0.019,"l":0.016,"h":0.022},
{"p":"B22","s":"E","x":1.5,"y":0.0131,"l":0.0116,"h":0.0146},
{"p":"B22","s":"E","x":3.6,"y":0.0092,"l":0.0077,"h":0.0107},
{"p":"B22","s":"E","x":5.6,"y":0.0073,"l":0.0058,"h":0.0088},
{"p":"B22","s":"E","x":8.6,"y":0.0043,"l":0.003,"h":0.0056},
{"p":"B22","s":"E","x":10.6,"y":0.0024,"l":0.0014,"h":0.0034},
{"p":"B22","s":"E","x":15.7,"y":0.0018,"l":0.001,"h":0.0028},
{"p":"B22","s":"E","x":26,"y":0.0029,"l":0.0017,"h":0.0041},
{"p":"B22","s":"E","x":46,"y":0.0033,"l":0.002,"h":0.0046},
{"p":"B22","s":"E","x":56,"y":0.0029,"l":0.0017,"h":0.0041},
{"p":"B22","s":"E","x":80,"y":0.0024,"l":0.0013,"h":0.0035},
{"p":"B22","s":"N","x":0,"y":0.021,"l":0.015,"h":0.028},
{"p":"B22","s":"N","x":1.5,"y":0.037,"l":0.027,"h":0.05},
{"p":"B22","s":"N","x":2.5,"y":0.041,"l":0.032,"h":0.055},
{"p":"B22","s":"N","x":3.6,"y":0.039,"l":0.03,"h":0.055},
{"p":"B22","s":"N","x":4.6,"y":0.033,"l":0.025,"h":0.045},
{"p":"B22","s":"N","x":5.6,"y":0.027,"l":0.019,"h":0.038},
{"p":"B22","s":"N","x":6.6,"y":0.021,"l":0.014,"h":0.03},
{"p":"B22","s":"N","x":7.6,"y":0.0092,"l":0.005,"h":0.015},
{"p":"B22","s":"N","x":8.6,"y":0.0053,"l":0.003,"h":0.009},
{"p":"B22","s":"N","x":9.6,"y":0.0033,"l":0.002,"h":0.006},
{"p":"B22","s":"N","x":10.6,"y":0.0024,"l":0.0014,"h":0.004},
{"p":"B22","s":"N","x":15.7,"y":0.0014,"l":0.0008,"h":0.0022},
{"p":"B22","s":"N","x":26,"y":0.002,"l":0.0012,"h":0.003},
{"p":"B22","s":"N","x":36,"y":0.0014,"l":0.0008,"h":0.0022},
{"p":"B22","s":"N","x":80,"y":0.0014,"l":0.0008,"h":0.0022},
{"p":"B22","s":"D","x":0,"y":0.017,"l":0.015,"h":0.019},
{"p":"B22","s":"D","x":1.5,"y":0.0122,"l":0.0114,"h":0.013},
{"p":"B22","s":"D","x":3.6,"y":0.0092,"l":0.0084,"h":0.01},
{"p":"B22","s":"D","x":5.6,"y":0.0092,"l":0.0082,"h":0.0102},
{"p":"B22","s":"D","x":7.6,"y":0.0082,"l":0.0072,"h":0.0092},
{"p":"B22","s":"D","x":9.6,"y":0.0033,"l":0.0026,"h":0.004},
{"p":"B22","s":"D","x":10.6,"y":0.0018,"l":0.0013,"h":0.0023},
{"p":"B22","s":"D","x":15.7,"y":0.001,"l":0.0006,"h":0.0014},
{"p":"B22","s":"D","x":80,"y":0.0008,"l":0.0005,"h":0.0011},
{"p":"B32","s":"U","x":0,"y":0.0208,"l":0.019,"h":0.0226},
{"p":"B32","s":"U","x":2,"y":0.0111,"l":0.0101,"h":0.0121},
{"p":"B32","s":"U","x":5.6,"y":0.0082,"l":0.0072,"h":0.0092},
{"p":"B32","s":"U","x":8.6,"y":0.0043,"l":0.0035,"h":0.0051},
{"p":"B32","s":"U","x":10.6,"y":0.0018,"l":0.0012,"h":0.0024},
{"p":"B32","s":"U","x":15.7,"y":0.0014,"l":0.0009,"h":0.0019},
{"p":"B32","s":"U","x":80,"y":0.001,"l":0.0006,"h":0.0014},
{"p":"B32","s":"E","x":0,"y":0.0228,"l":0.02,"h":0.026},
{"p":"B32","s":"E","x":2,"y":0.015,"l":0.0135,"h":0.0165},
{"p":"B32","s":"E","x":5.6,"y":0.0111,"l":0.0096,"h":0.0126},
{"p":"B32","s":"E","x":8.6,"y":0.0062,"l":0.0047,"h":0.0077},
{"p":"B32","s":"E","x":10.6,"y":0.0033,"l":0.002,"h":0.0046},
{"p":"B32","s":"E","x":15.7,"y":0.0029,"l":0.0017,"h":0.0041},
{"p":"B32","s":"E","x":36,"y":0.0033,"l":0.002,"h":0.0046},
{"p":"B32","s":"E","x":46,"y":0.0037,"l":0.0024,"h":0.005},
{"p":"B32","s":"E","x":56,"y":0.0033,"l":0.002,"h":0.0046},
{"p":"B32","s":"E","x":80,"y":0.0033,"l":0.002,"h":0.0046},
{"p":"B32","s":"N","x":0,"y":0.017,"l":0.012,"h":0.024},
{"p":"B32","s":"N","x":0.5,"y":0.0325,"l":0.02,"h":0.046},
{"p":"B32","s":"N","x":1.5,"y":0.0286,"l":0.018,"h":0.045},
{"p":"B32","s":"N","x":2.5,"y":0.0267,"l":0.017,"h":0.042},
{"p":"B32","s":"N","x":3.6,"y":0.0208,"l":0.013,"h":0.032},
{"p":"B32","s":"N","x":4.6,"y":0.011,"l":0.006,"h":0.018},
{"p":"B32","s":"N","x":5.6,"y":0.0091,"l":0.005,"h":0.015},
{"p":"B32","s":"N","x":6.6,"y":0.0053,"l":0.003,"h":0.009},
{"p":"B32","s":"N","x":7.6,"y":0.0033,"l":0.002,"h":0.006},
{"p":"B32","s":"N","x":10.6,"y":0.0023,"l":0.0013,"h":0.0035},
{"p":"B32","s":"N","x":15.7,"y":0.0014,"l":0.0008,"h":0.0022},
{"p":"B32","s":"N","x":26,"y":0.0014,"l":0.0008,"h":0.0022},
{"p":"B32","s":"N","x":56,"y":0.0018,"l":0.001,"h":0.0026},
{"p":"B32","s":"N","x":57.4,"y":0.005,"l":0.002,"h":0.014},
{"p":"B32","s":"N","x":58.4,"y":0.0082,"l":0.003,"h":0.024},
{"p":"B32","s":"N","x":59.4,"y":0.006,"l":0.002,"h":0.016},
{"p":"B32","s":"N","x":60.4,"y":0.0023,"l":0.0012,"h":0.0035},
{"p":"B32","s":"N","x":66,"y":0.0014,"l":0.0008,"h":0.0022},
{"p":"B32","s":"N","x":80,"y":0.0018,"l":0.001,"h":0.0026},
{"p":"B32","s":"D","x":0,"y":0.0189,"l":0.017,"h":0.021},
{"p":"B32","s":"D","x":2,"y":0.0111,"l":0.0103,"h":0.0119},
{"p":"B32","s":"D","x":5.6,"y":0.0072,"l":0.0064,"h":0.008},
{"p":"B32","s":"D","x":8.6,"y":0.0033,"l":0.0027,"h":0.0039},
{"p":"B32","s":"D","x":10.6,"y":0.0014,"l":0.001,"h":0.0018},
{"p":"B32","s":"D","x":80,"y":0.001,"l":0.0007,"h":0.0013},
{"p":"B13","s":"U","x":0,"y":0.019,"l":0.017,"h":0.021},
{"p":"B13","s":"U","x":1.3,"y":0.0124,"l":0.0114,"h":0.0134},
{"p":"B13","s":"U","x":3.9,"y":0.0104,"l":0.0096,"h":0.0112},
{"p":"B13","s":"U","x":9,"y":0.009,"l":0.0082,"h":0.0098},
{"p":"B13","s":"U","x":14,"y":0.0075,"l":0.0067,"h":0.0083},
{"p":"B13","s":"U","x":24,"y":0.0055,"l":0.0047,"h":0.0063},
{"p":"B13","s":"U","x":34,"y":0.0045,"l":0.0037,"h":0.0053},
{"p":"B13","s":"U","x":44,"y":0.0039,"l":0.0031,"h":0.0047},
{"p":"B13","s":"U","x":55,"y":0.0035,"l":0.0027,"h":0.0043},
{"p":"B13","s":"U","x":80,"y":0.0031,"l":0.0023,"h":0.0039},
{"p":"B13","s":"E","x":0,"y":0.022,"l":0.019,"h":0.026},
{"p":"B13","s":"E","x":1.3,"y":0.017,"l":0.015,"h":0.019},
{"p":"B13","s":"E","x":3.9,"y":0.0124,"l":0.0109,"h":0.0139},
{"p":"B13","s":"E","x":9,"y":0.0104,"l":0.0089,"h":0.0119},
{"p":"B13","s":"E","x":14,"y":0.0075,"l":0.006,"h":0.009},
{"p":"B13","s":"E","x":24,"y":0.0045,"l":0.0032,"h":0.0058},
{"p":"B13","s":"E","x":34,"y":0.0035,"l":0.0023,"h":0.0047},
{"p":"B13","s":"E","x":55,"y":0.0025,"l":0.0015,"h":0.0035},
{"p":"B13","s":"E","x":80,"y":0.002,"l":0.0012,"h":0.0028},
{"p":"B13","s":"N","x":0,"y":0.019,"l":0.016,"h":0.023},
{"p":"B13","s":"N","x":1.3,"y":0.0153,"l":0.012,"h":0.019},
{"p":"B13","s":"N","x":2.8,"y":0.029,"l":0.02,"h":0.04},
{"p":"B13","s":"N","x":3.9,"y":0.045,"l":0.034,"h":0.055},
{"p":"B13","s":"N","x":4.9,"y":0.044,"l":0.033,"h":0.055},
{"p":"B13","s":"N","x":5.9,"y":0.037,"l":0.027,"h":0.048},
{"p":"B13","s":"N","x":6.9,"y":0.029,"l":0.021,"h":0.038},
{"p":"B13","s":"N","x":7.9,"y":0.019,"l":0.013,"h":0.028},
{"p":"B13","s":"N","x":9,"y":0.017,"l":0.011,"h":0.026},
{"p":"B13","s":"N","x":10,"y":0.018,"l":0.011,"h":0.028},
{"p":"B13","s":"N","x":11,"y":0.0133,"l":0.008,"h":0.022},
{"p":"B13","s":"N","x":12,"y":0.0114,"l":0.006,"h":0.019},
{"p":"B13","s":"N","x":14,"y":0.0055,"l":0.003,"h":0.01},
{"p":"B13","s":"N","x":19,"y":0.0025,"l":0.0014,"h":0.004},
{"p":"B13","s":"N","x":24,"y":0.0025,"l":0.0014,"h":0.004},
{"p":"B13","s":"N","x":34,"y":0.0029,"l":0.0016,"h":0.0045},
{"p":"B13","s":"N","x":55,"y":0.002,"l":0.0012,"h":0.003},
{"p":"B13","s":"N","x":80,"y":0.0016,"l":0.001,"h":0.0024},
{"p":"B13","s":"D","x":0,"y":0.018,"l":0.016,"h":0.02},
{"p":"B13","s":"D","x":1.3,"y":0.0133,"l":0.0125,"h":0.0141},
{"p":"B13","s":"D","x":3.9,"y":0.0104,"l":0.0096,"h":0.0112},
{"p":"B13","s":"D","x":9,"y":0.0084,"l":0.0076,"h":0.0092},
{"p":"B13","s":"D","x":14,"y":0.0051,"l":0.0043,"h":0.0059},
{"p":"B13","s":"D","x":24,"y":0.0035,"l":0.0028,"h":0.0042},
{"p":"B13","s":"D","x":34,"y":0.0025,"l":0.0019,"h":0.0031},
{"p":"B13","s":"D","x":55,"y":0.002,"l":0.0014,"h":0.0026},
{"p":"B13","s":"D","x":80,"y":0.0016,"l":0.0011,"h":0.0021},
{"p":"B23","s":"U","x":0,"y":0.015,"l":0.0135,"h":0.0165},
{"p":"B23","s":"U","x":1.8,"y":0.0092,"l":0.0084,"h":0.01},
{"p":"B23","s":"U","x":3.9,"y":0.0073,"l":0.0065,"h":0.0081},
{"p":"B23","s":"U","x":9,"y":0.0033,"l":0.0026,"h":0.004},
{"p":"B23","s":"U","x":14,"y":0.0014,"l":0.0009,"h":0.0019},
{"p":"B23","s":"U","x":80,"y":0.0008,"l":0.0005,"h":0.0011},
{"p":"B23","s":"E","x":0,"y":0.017,"l":0.015,"h":0.019},
{"p":"B23","s":"E","x":1.8,"y":0.0122,"l":0.011,"h":0.0134},
{"p":"B23","s":"E","x":3.9,"y":0.0092,"l":0.008,"h":0.0104},
{"p":"B23","s":"E","x":9,"y":0.0043,"l":0.0033,"h":0.0053},
{"p":"B23","s":"E","x":14,"y":0.0018,"l":0.0012,"h":0.0024},
{"p":"B23","s":"E","x":24,"y":0.0014,"l":0.0009,"h":0.0019},
{"p":"B23","s":"E","x":80,"y":0.001,"l":0.0006,"h":0.0014},
{"p":"B23","s":"N","x":0,"y":0.021,"l":0.015,"h":0.028},
{"p":"B23","s":"N","x":1.3,"y":0.037,"l":0.027,"h":0.05},
{"p":"B23","s":"N","x":2.3,"y":0.041,"l":0.031,"h":0.055},
{"p":"B23","s":"N","x":2.9,"y":0.039,"l":0.03,"h":0.055},
{"p":"B23","s":"N","x":3.9,"y":0.035,"l":0.026,"h":0.048},
{"p":"B23","s":"N","x":4.9,"y":0.025,"l":0.017,"h":0.036},
{"p":"B23","s":"N","x":5.9,"y":0.0151,"l":0.009,"h":0.025},
{"p":"B23","s":"N","x":6.9,"y":0.0073,"l":0.004,"h":0.014},
{"p":"B23","s":"N","x":7.9,"y":0.0033,"l":0.002,"h":0.006},
{"p":"B23","s":"N","x":10,"y":0.0024,"l":0.0014,"h":0.004},
{"p":"B23","s":"N","x":14,"y":0.001,"l":0.0006,"h":0.0016},
{"p":"B23","s":"N","x":80,"y":0.0006,"l":0.0003,"h":0.0009},
{"p":"B23","s":"D","x":0,"y":0.016,"l":0.0145,"h":0.0175},
{"p":"B23","s":"D","x":1.8,"y":0.0112,"l":0.0104,"h":0.012},
{"p":"B23","s":"D","x":3.9,"y":0.0082,"l":0.0074,"h":0.009},
{"p":"B23","s":"D","x":9,"y":0.0027,"l":0.0021,"h":0.0033},
{"p":"B23","s":"D","x":14,"y":0.001,"l":0.0006,"h":0.0014},
{"p":"B23","s":"D","x":80,"y":0.0006,"l":0.0003,"h":0.0009},
{"p":"B33","s":"U","x":0,"y":0.017,"l":0.0155,"h":0.0185},
{"p":"B33","s":"U","x":1.8,"y":0.0091,"l":0.0083,"h":0.0099},
{"p":"B33","s":"U","x":3.9,"y":0.0053,"l":0.0046,"h":0.006},
{"p":"B33","s":"U","x":6.9,"y":0.0023,"l":0.0017,"h":0.0029},
{"p":"B33","s":"U","x":14,"y":0.001,"l":0.0006,"h":0.0014},
{"p":"B33","s":"U","x":80,"y":0.0004,"l":0.0002,"h":0.0006},
{"p":"B33","s":"E","x":0,"y":0.0208,"l":0.0185,"h":0.023},
{"p":"B33","s":"E","x":1.8,"y":0.015,"l":0.0135,"h":0.0165},
{"p":"B33","s":"E","x":3.9,"y":0.0091,"l":0.008,"h":0.0102},
{"p":"B33","s":"E","x":6.9,"y":0.0043,"l":0.0033,"h":0.0053},
{"p":"B33","s":"E","x":9.9,"y":0.0033,"l":0.0024,"h":0.0042},
{"p":"B33","s":"E","x":14,"y":0.0018,"l":0.0012,"h":0.0024},
{"p":"B33","s":"E","x":34,"y":0.0014,"l":0.0009,"h":0.0019},
{"p":"B33","s":"E","x":80,"y":0.0008,"l":0.0005,"h":0.0011},
{"p":"B33","s":"N","x":0,"y":0.0228,"l":0.015,"h":0.032},
{"p":"B33","s":"N","x":0.8,"y":0.0286,"l":0.018,"h":0.045},
{"p":"B33","s":"N","x":1.8,"y":0.0228,"l":0.014,"h":0.04},
{"p":"B33","s":"N","x":2.8,"y":0.017,"l":0.01,"h":0.03},
{"p":"B33","s":"N","x":3.9,"y":0.0228,"l":0.013,"h":0.035},
{"p":"B33","s":"N","x":4.9,"y":0.0111,"l":0.006,"h":0.02},
{"p":"B33","s":"N","x":5.9,"y":0.0053,"l":0.003,"h":0.012},
{"p":"B33","s":"N","x":6.9,"y":0.0033,"l":0.002,"h":0.007},
{"p":"B33","s":"N","x":9,"y":0.0023,"l":0.0013,"h":0.004},
{"p":"B33","s":"N","x":14,"y":0.001,"l":0.0006,"h":0.0016},
{"p":"B33","s":"N","x":80,"y":0.0004,"l":0.0002,"h":0.0006},
{"p":"B33","s":"D","x":0,"y":0.0189,"l":0.017,"h":0.021},
{"p":"B33","s":"D","x":1.8,"y":0.013,"l":0.012,"h":0.014},
{"p":"B33","s":"D","x":3.4,"y":0.0111,"l":0.0102,"h":0.012},
{"p":"B33","s":"D","x":4.9,"y":0.0053,"l":0.0045,"h":0.0061},
{"p":"B33","s":"D","x":9,"y":0.0018,"l":0.0013,"h":0.0023},
{"p":"B33","s":"D","x":80,"y":0.0008,"l":0.0005,"h":0.0011}
]},
"spacing": 40,
"center": true,
"resolve": {"scale": {"stroke": "independent", "fill": "independent"}, "legend": {"stroke": "independent"}},
"vconcat": [
{"columns": 3, "spacing": {"row": 17, "column": 51.5}, "bounds": "flush",
 "resolve": {"scale": {"stroke": "independent", "fill": "independent"}, "legend": {"stroke": "independent"}},
 "concat": [
  {"width": 260, "height": 85, "title": {"text": "Buffer 800", "offset": 6}, "transform": [{"filter": "datum.p=='A11'"}],
   "encoding": {"x": {"field": "x", "type": "quantitative", "scale": {"domain": [0, 80], "nice": false}, "axis": {"ticks": false, "labels": false, "title": null}},
     "y": {"field": "y", "type": "quantitative", "scale": {"domain": [0, 0.015], "nice": false}, "axis": {"values": [0, 0.015], "labelExpr": "datum.value == 0 ? '0' : '0.015'", "title": "Batch 1", "titleAngle": 0, "titleAlign": "center", "titleBaseline": "middle", "titleX": -74, "titleY": 42.5}}},
   "layer": [
    {"mark": {"type": "area", "clip": true, "opacity": 0.2}, "encoding": {"y": {"field": "l", "type": "quantitative"}, "y2": {"field": "h"}, "fill": {"field": "s", "type": "nominal", "scale": {"domain": ["D","N","E","U"], "range": ["#2ca02c","#d62728","#1f77b4","#000000"]}, "legend": null}}},
    {"mark": {"type": "line", "clip": true, "strokeWidth": 1.2}, "encoding": {"stroke": {"field": "s", "type": "nominal", "scale": {"domain": ["U","E","N","D"], "range": ["#000000","#1f77b4","#d62728","#2ca02c"]}, "legend": {"values": ["U"], "title": null, "labelExpr": "'Uniform'", "symbolType": "M-1,0H3.8", "symbolSize": 324, "symbolStrokeWidth": 1.5, "labelOffset": 42}}}}
   ]},
  {"width": 260, "height": 85, "title": "Buffer 8000", "transform": [{"filter": "datum.p=='A12'"}],
   "encoding": {"x": {"field": "x", "type": "quantitative", "scale": {"domain": [0, 80], "nice": false}, "axis": {"ticks": false, "labels": false, "title": null}},
     "y": {"field": "y", "type": "quantitative", "scale": {"domain": [0, 0.015], "nice": false}, "axis": {"ticks": false, "labels": false, "title": null}}},
   "layer": [
    {"mark": {"type": "area", "clip": true, "opacity": 0.2}, "encoding": {"y": {"field": "l", "type": "quantitative"}, "y2": {"field": "h"}, "fill": {"field": "s", "type": "nominal", "scale": {"domain": ["D","N","E","U"], "range": ["#2ca02c","#d62728","#1f77b4","#000000"]}, "legend": null}}},
    {"mark": {"type": "line", "clip": true, "strokeWidth": 1.2}, "encoding": {"stroke": {"field": "s", "type": "nominal", "scale": {"domain": ["U","E","N","D"], "range": ["#000000","#1f77b4","#d62728","#2ca02c"]}, "legend": {"values": ["E"], "title": null, "labelExpr": "'EPER'", "symbolType": "M-1,0H3.8", "symbolSize": 324, "symbolStrokeWidth": 1.5, "labelOffset": 42}}}}
   ]},
  {"width": 260, "height": 85, "title": "Buffer 80000", "transform": [{"filter": "datum.p=='A13'"}],
   "encoding": {"x": {"field": "x", "type": "quantitative", "scale": {"domain": [0, 80], "nice": false}, "axis": {"ticks": false, "labels": false, "title": null}},
     "y": {"field": "y", "type": "quantitative", "scale": {"domain": [0, 0.015], "nice": false}, "axis": {"ticks": false, "labels": false, "title": null}}},
   "layer": [
    {"mark": {"type": "area", "clip": true, "opacity": 0.2}, "encoding": {"y": {"field": "l", "type": "quantitative"}, "y2": {"field": "h"}, "fill": {"field": "s", "type": "nominal", "scale": {"domain": ["D","N","E","U"], "range": ["#2ca02c","#d62728","#1f77b4","#000000"]}, "legend": null}}},
    {"mark": {"type": "line", "clip": true, "strokeWidth": 1.2}, "encoding": {"stroke": {"field": "s", "type": "nominal", "scale": {"domain": ["U","E","N","D"], "range": ["#000000","#1f77b4","#d62728","#2ca02c"]}, "legend": {"values": ["N"], "title": null, "labelExpr": "'Naive PER'", "symbolType": "M-1,0H3.8", "symbolSize": 324, "symbolStrokeWidth": 1.5, "labelOffset": 42}}}}
   ]},
  {"width": 260, "height": 85, "transform": [{"filter": "datum.p=='A21'"}],
   "encoding": {"x": {"field": "x", "type": "quantitative", "scale": {"domain": [0, 80], "nice": false}, "axis": {"ticks": false, "labels": false, "title": null}},
     "y": {"field": "y", "type": "quantitative", "scale": {"domain": [0, 0.015], "nice": false}, "axis": {"values": [0, 0.015], "labelExpr": "datum.value == 0 ? '0' : '0.015'", "title": "Batch 8", "titleAngle": 0, "titleAlign": "center", "titleBaseline": "middle", "titleX": -74, "titleY": 42.5}}},
   "layer": [
    {"mark": {"type": "area", "clip": true, "opacity": 0.2}, "encoding": {"y": {"field": "l", "type": "quantitative"}, "y2": {"field": "h"}, "fill": {"field": "s", "type": "nominal", "scale": {"domain": ["D","N","E","U"], "range": ["#2ca02c","#d62728","#1f77b4","#000000"]}, "legend": null}}},
    {"mark": {"type": "line", "clip": true, "strokeWidth": 1.2}, "encoding": {"stroke": {"field": "s", "type": "nominal", "scale": {"domain": ["U","E","N","D"], "range": ["#000000","#1f77b4","#d62728","#2ca02c"]}, "legend": {"values": ["D"], "title": null, "labelExpr": "'DM-PER'", "symbolType": "M-1,0H3.8", "symbolSize": 324, "symbolStrokeWidth": 1.5, "labelOffset": 42}}}}
   ]},
  {"width": 260, "height": 85, "transform": [{"filter": "datum.p=='A22'"}],
   "encoding": {"x": {"field": "x", "type": "quantitative", "scale": {"domain": [0, 80], "nice": false}, "axis": {"ticks": false, "labels": false, "title": null}},
     "y": {"field": "y", "type": "quantitative", "scale": {"domain": [0, 0.015], "nice": false}, "axis": {"ticks": false, "labels": false, "title": null}}},
   "layer": [
    {"mark": {"type": "area", "clip": true, "opacity": 0.2}, "encoding": {"y": {"field": "l", "type": "quantitative"}, "y2": {"field": "h"}, "fill": {"field": "s", "type": "nominal", "scale": {"domain": ["D","N","E","U"], "range": ["#2ca02c","#d62728","#1f77b4","#000000"]}, "legend": null}}},
    {"mark": {"type": "line", "clip": true, "strokeWidth": 1.2}, "encoding": {"stroke": {"field": "s", "type": "nominal", "scale": {"domain": ["U","E","N","D"], "range": ["#000000","#1f77b4","#d62728","#2ca02c"]}, "legend": null}}}
   ]},
  {"width": 260, "height": 85, "transform": [{"filter": "datum.p=='A23'"}],
   "encoding": {"x": {"field": "x", "type": "quantitative", "scale": {"domain": [0, 80], "nice": false}, "axis": {"ticks": false, "labels": false, "title": null}},
     "y": {"field": "y", "type": "quantitative", "scale": {"domain": [0, 0.015], "nice": false}, "axis": {"ticks": false, "labels": false, "title": null}}},
   "layer": [
    {"mark": {"type": "area", "clip": true, "opacity": 0.2}, "encoding": {"y": {"field": "l", "type": "quantitative"}, "y2": {"field": "h"}, "fill": {"field": "s", "type": "nominal", "scale": {"domain": ["D","N","E","U"], "range": ["#2ca02c","#d62728","#1f77b4","#000000"]}, "legend": null}}},
    {"mark": {"type": "line", "clip": true, "strokeWidth": 1.2}, "encoding": {"stroke": {"field": "s", "type": "nominal", "scale": {"domain": ["U","E","N","D"], "range": ["#000000","#1f77b4","#d62728","#2ca02c"]}, "legend": null}}}
   ]},
  {"width": 260, "height": 85, "transform": [{"filter": "datum.p=='A31'"}],
   "encoding": {"x": {"field": "x", "type": "quantitative", "scale": {"domain": [0, 80], "nice": false}, "axis": {"values": [0, 80], "labelExpr": "datum.value == 0 ? '0' : '80k'", "title": "Time steps"}},
     "y": {"field": "y", "type": "quantitative", "scale": {"domain": [0, 0.015], "nice": false}, "axis": {"values": [0, 0.015], "labelExpr": "datum.value == 0 ? '0' : '0.015'", "title": "Batch 64", "titleAngle": 0, "titleAlign": "center", "titleBaseline": "middle", "titleX": -74, "titleY": 42.5}}},
   "layer": [
    {"mark": {"type": "area", "clip": true, "opacity": 0.2}, "encoding": {"y": {"field": "l", "type": "quantitative"}, "y2": {"field": "h"}, "fill": {"field": "s", "type": "nominal", "scale": {"domain": ["D","N","E","U"], "range": ["#2ca02c","#d62728","#1f77b4","#000000"]}, "legend": null}}},
    {"mark": {"type": "line", "clip": true, "strokeWidth": 1.2}, "encoding": {"stroke": {"field": "s", "type": "nominal", "scale": {"domain": ["U","E","N","D"], "range": ["#000000","#1f77b4","#d62728","#2ca02c"]}, "legend": null}}}
   ]},
  {"width": 260, "height": 85, "transform": [{"filter": "datum.p=='A32'"}],
   "encoding": {"x": {"field": "x", "type": "quantitative", "scale": {"domain": [0, 80], "nice": false}, "axis": {"values": [0, 80], "labelExpr": "datum.value == 0 ? '0' : '80k'", "title": "Time steps"}},
     "y": {"field": "y", "type": "quantitative", "scale": {"domain": [0, 0.015], "nice": false}, "axis": {"ticks": false, "labels": false, "title": null}}},
   "layer": [
    {"mark": {"type": "area", "clip": true, "opacity": 0.2}, "encoding": {"y": {"field": "l", "type": "quantitative"}, "y2": {"field": "h"}, "fill": {"field": "s", "type": "nominal", "scale": {"domain": ["D","N","E","U"], "range": ["#2ca02c","#d62728","#1f77b4","#000000"]}, "legend": null}}},
    {"mark": {"type": "line", "clip": true, "strokeWidth": 1.2}, "encoding": {"stroke": {"field": "s", "type": "nominal", "scale": {"domain": ["U","E","N","D"], "range": ["#000000","#1f77b4","#d62728","#2ca02c"]}, "legend": null}}}
   ]},
  {"width": 260, "height": 85, "transform": [{"filter": "datum.p=='A33'"}],
   "encoding": {"x": {"field": "x", "type": "quantitative", "scale": {"domain": [0, 80], "nice": false}, "axis": {"values": [0, 80], "labelExpr": "datum.value == 0 ? '0' : '80k'", "title": "Time steps"}},
     "y": {"field": "y", "type": "quantitative", "scale": {"domain": [0, 0.015], "nice": false}, "axis": {"ticks": false, "labels": false, "title": null}}},
   "layer": [
    {"mark": {"type": "area", "clip": true, "opacity": 0.2}, "encoding": {"y": {"field": "l", "type": "quantitative"}, "y2": {"field": "h"}, "fill": {"field": "s", "type": "nominal", "scale": {"domain": ["D","N","E","U"], "range": ["#2ca02c","#d62728","#1f77b4","#000000"]}, "legend": null}}},
    {"mark": {"type": "line", "clip": true, "strokeWidth": 1.2}, "encoding": {"stroke": {"field": "s", "type": "nominal", "scale": {"domain": ["U","E","N","D"], "range": ["#000000","#1f77b4","#d62728","#2ca02c"]}, "legend": null}}}
   ]}
 ]},
{"columns": 3, "spacing": {"row": 18, "column": 51.5}, "bounds": "flush",
 "resolve": {"scale": {"stroke": "independent", "fill": "independent"}, "legend": {"stroke": "independent"}},
 "concat": [
  {"width": 262.5, "height": 85, "title": {"text": "Buffer 800", "offset": 6}, "transform": [{"filter": "datum.p=='B11'"}],
   "encoding": {"x": {"field": "x", "type": "quantitative", "scale": {"domain": [0, 80], "nice": false}, "axis": {"ticks": false, "labels": false, "title": null}},
     "y": {"field": "y", "type": "quantitative", "scale": {"domain": [0, 0.05], "nice": false}, "axis": {"values": [0, 0.05], "labelExpr": "datum.value == 0 ? '0' : '0.05'", "title": "Batch 1", "titleAngle": 0, "titleAlign": "center", "titleBaseline": "middle", "titleX": -69, "titleY": 42.5}}},
   "layer": [
    {"mark": {"type": "area", "clip": true, "opacity": 0.2}, "encoding": {"y": {"field": "l", "type": "quantitative"}, "y2": {"field": "h"}, "fill": {"field": "s", "type": "nominal", "scale": {"domain": ["D","N","E","U"], "range": ["#2ca02c","#d62728","#1f77b4","#000000"]}, "legend": null}}},
    {"mark": {"type": "line", "clip": true, "strokeWidth": 1.2}, "encoding": {"stroke": {"field": "s", "type": "nominal", "scale": {"domain": ["U","E","N","D"], "range": ["#000000","#1f77b4","#d62728","#2ca02c"]}, "legend": {"values": ["U"], "title": null, "labelExpr": "'Uniform'", "symbolType": "M-1,0H3.8", "symbolSize": 324, "symbolStrokeWidth": 1.5, "labelOffset": 42}}}}
   ]},
  {"width": 262.5, "height": 85, "title": "Buffer 8000", "transform": [{"filter": "datum.p=='B12'"}],
   "encoding": {"x": {"field": "x", "type": "quantitative", "scale": {"domain": [0, 80], "nice": false}, "axis": {"ticks": false, "labels": false, "title": null}},
     "y": {"field": "y", "type": "quantitative", "scale": {"domain": [0, 0.05], "nice": false}, "axis": {"ticks": false, "labels": false, "title": null}}},
   "layer": [
    {"mark": {"type": "area", "clip": true, "opacity": 0.2}, "encoding": {"y": {"field": "l", "type": "quantitative"}, "y2": {"field": "h"}, "fill": {"field": "s", "type": "nominal", "scale": {"domain": ["D","N","E","U"], "range": ["#2ca02c","#d62728","#1f77b4","#000000"]}, "legend": null}}},
    {"mark": {"type": "line", "clip": true, "strokeWidth": 1.2}, "encoding": {"stroke": {"field": "s", "type": "nominal", "scale": {"domain": ["U","E","N","D"], "range": ["#000000","#1f77b4","#d62728","#2ca02c"]}, "legend": {"values": ["E"], "title": null, "labelExpr": "'EPER'", "symbolType": "M-1,0H3.8", "symbolSize": 324, "symbolStrokeWidth": 1.5, "labelOffset": 42}}}}
   ]},
  {"width": 262.5, "height": 85, "title": "Buffer 80000", "transform": [{"filter": "datum.p=='B13'"}],
   "encoding": {"x": {"field": "x", "type": "quantitative", "scale": {"domain": [0, 80], "nice": false}, "axis": {"ticks": false, "labels": false, "title": null}},
     "y": {"field": "y", "type": "quantitative", "scale": {"domain": [0, 0.05], "nice": false}, "axis": {"ticks": false, "labels": false, "title": null}}},
   "layer": [
    {"mark": {"type": "area", "clip": true, "opacity": 0.2}, "encoding": {"y": {"field": "l", "type": "quantitative"}, "y2": {"field": "h"}, "fill": {"field": "s", "type": "nominal", "scale": {"domain": ["D","N","E","U"], "range": ["#2ca02c","#d62728","#1f77b4","#000000"]}, "legend": null}}},
    {"mark": {"type": "line", "clip": true, "strokeWidth": 1.2}, "encoding": {"stroke": {"field": "s", "type": "nominal", "scale": {"domain": ["U","E","N","D"], "range": ["#000000","#1f77b4","#d62728","#2ca02c"]}, "legend": {"values": ["N"], "title": null, "labelExpr": "'Naive PER'", "symbolType": "M-1,0H3.8", "symbolSize": 324, "symbolStrokeWidth": 1.5, "labelOffset": 42}}}}
   ]},
  {"width": 262.5, "height": 85, "transform": [{"filter": "datum.p=='B21'"}],
   "encoding": {"x": {"field": "x", "type": "quantitative", "scale": {"domain": [0, 80], "nice": false}, "axis": {"ticks": false, "labels": false, "title": null}},
     "y": {"field": "y", "type": "quantitative", "scale": {"domain": [0, 0.05], "nice": false}, "axis": {"values": [0, 0.05], "labelExpr": "datum.value == 0 ? '0' : '0.05'", "title": "Batch 8", "titleAngle": 0, "titleAlign": "center", "titleBaseline": "middle", "titleX": -69, "titleY": 42.5}}},
   "layer": [
    {"mark": {"type": "area", "clip": true, "opacity": 0.2}, "encoding": {"y": {"field": "l", "type": "quantitative"}, "y2": {"field": "h"}, "fill": {"field": "s", "type": "nominal", "scale": {"domain": ["D","N","E","U"], "range": ["#2ca02c","#d62728","#1f77b4","#000000"]}, "legend": null}}},
    {"mark": {"type": "line", "clip": true, "strokeWidth": 1.2}, "encoding": {"stroke": {"field": "s", "type": "nominal", "scale": {"domain": ["U","E","N","D"], "range": ["#000000","#1f77b4","#d62728","#2ca02c"]}, "legend": {"values": ["D"], "title": null, "labelExpr": "'DM-PER'", "symbolType": "M-1,0H3.8", "symbolSize": 324, "symbolStrokeWidth": 1.5, "labelOffset": 42}}}}
   ]},
  {"width": 262.5, "height": 85, "transform": [{"filter": "datum.p=='B22'"}],
   "encoding": {"x": {"field": "x", "type": "quantitative", "scale": {"domain": [0, 80], "nice": false}, "axis": {"ticks": false, "labels": false, "title": null}},
     "y": {"field": "y", "type": "quantitative", "scale": {"domain": [0, 0.05], "nice": false}, "axis": {"ticks": false, "labels": false, "title": null}}},
   "layer": [
    {"mark": {"type": "area", "clip": true, "opacity": 0.2}, "encoding": {"y": {"field": "l", "type": "quantitative"}, "y2": {"field": "h"}, "fill": {"field": "s", "type": "nominal", "scale": {"domain": ["D","N","E","U"], "range": ["#2ca02c","#d62728","#1f77b4","#000000"]}, "legend": null}}},
    {"mark": {"type": "line", "clip": true, "strokeWidth": 1.2}, "encoding": {"stroke": {"field": "s", "type": "nominal", "scale": {"domain": ["U","E","N","D"], "range": ["#000000","#1f77b4","#d62728","#2ca02c"]}, "legend": null}}}
   ]},
  {"width": 262.5, "height": 85, "transform": [{"filter": "datum.p=='B23'"}],
   "encoding": {"x": {"field": "x", "type": "quantitative", "scale": {"domain": [0, 80], "nice": false}, "axis": {"ticks": false, "labels": false, "title": null}},
     "y": {"field": "y", "type": "quantitative", "scale": {"domain": [0, 0.05], "nice": false}, "axis": {"ticks": false, "labels": false, "title": null}}},
   "layer": [
    {"mark": {"type": "area", "clip": true, "opacity": 0.2}, "encoding": {"y": {"field": "l", "type": "quantitative"}, "y2": {"field": "h"}, "fill": {"field": "s", "type": "nominal", "scale": {"domain": ["D","N","E","U"], "range": ["#2ca02c","#d62728","#1f77b4","#000000"]}, "legend": null}}},
    {"mark": {"type": "line", "clip": true, "strokeWidth": 1.2}, "encoding": {"stroke": {"field": "s", "type": "nominal", "scale": {"domain": ["U","E","N","D"], "range": ["#000000","#1f77b4","#d62728","#2ca02c"]}, "legend": null}}}
   ]},
  {"width": 262.5, "height": 85, "transform": [{"filter": "datum.p=='B31'"}],
   "encoding": {"x": {"field": "x", "type": "quantitative", "scale": {"domain": [0, 80], "nice": false}, "axis": {"values": [0, 80], "labelExpr": "datum.value == 0 ? '0' : '80k'", "title": "Time steps"}},
     "y": {"field": "y", "type": "quantitative", "scale": {"domain": [0, 0.05], "nice": false}, "axis": {"values": [0, 0.05], "labelExpr": "datum.value == 0 ? '0' : '0.05'", "title": "Batch 64", "titleAngle": 0, "titleAlign": "center", "titleBaseline": "middle", "titleX": -69, "titleY": 42.5}}},
   "layer": [
    {"mark": {"type": "area", "clip": true, "opacity": 0.2}, "encoding": {"y": {"field": "l", "type": "quantitative"}, "y2": {"field": "h"}, "fill": {"field": "s", "type": "nominal", "scale": {"domain": ["D","N","E","U"], "range": ["#2ca02c","#d62728","#1f77b4","#000000"]}, "legend": null}}},
    {"mark": {"type": "line", "clip": true, "strokeWidth": 1.2}, "encoding": {"stroke": {"field": "s", "type": "nominal", "scale": {"domain": ["U","E","N","D"], "range": ["#000000","#1f77b4","#d62728","#2ca02c"]}, "legend": null}}}
   ]},
  {"width": 262.5, "height": 85, "transform": [{"filter": "datum.p=='B32'"}],
   "encoding": {"x": {"field": "x", "type": "quantitative", "scale": {"domain": [0, 80], "nice": false}, "axis": {"values": [0, 80], "labelExpr": "datum.value == 0 ? '0' : '80k'", "title": "Time steps"}},
     "y": {"field": "y", "type": "quantitative", "scale": {"domain": [0, 0.05], "nice": false}, "axis": {"ticks": false, "labels": false, "title": null}}},
   "layer": [
    {"mark": {"type": "area", "clip": true, "opacity": 0.2}, "encoding": {"y": {"field": "l", "type": "quantitative"}, "y2": {"field": "h"}, "fill": {"field": "s", "type": "nominal", "scale": {"domain": ["D","N","E","U"], "range": ["#2ca02c","#d62728","#1f77b4","#000000"]}, "legend": null}}},
    {"mark": {"type": "line", "clip": true, "strokeWidth": 1.2}, "encoding": {"stroke": {"field": "s", "type": "nominal", "scale": {"domain": ["U","E","N","D"], "range": ["#000000","#1f77b4","#d62728","#2ca02c"]}, "legend": null}}}
   ]},
  {"width": 262.5, "height": 85, "transform": [{"filter": "datum.p=='B33'"}],
   "encoding": {"x": {"field": "x", "type": "quantitative", "scale": {"domain": [0, 80], "nice": false}, "axis": {"values": [0, 80], "labelExpr": "datum.value == 0 ? '0' : '80k'", "title": "Time steps"}},
     "y": {"field": "y", "type": "quantitative", "scale": {"domain": [0, 0.05], "nice": false}, "axis": {"ticks": false, "labels": false, "title": null}}},
   "layer": [
    {"mark": {"type": "area", "clip": true, "opacity": 0.2}, "encoding": {"y": {"field": "l", "type": "quantitative"}, "y2": {"field": "h"}, "fill": {"field": "s", "type": "nominal", "scale": {"domain": ["D","N","E","U"], "range": ["#2ca02c","#d62728","#1f77b4","#000000"]}, "legend": null}}},
    {"mark": {"type": "line", "clip": true, "strokeWidth": 1.2}, "encoding": {"stroke": {"field": "s", "type": "nominal", "scale": {"domain": ["U","E","N","D"], "range": ["#000000","#1f77b4","#d62728","#2ca02c"]}, "legend": null}}}
   ]}
 ]}
],
"config": {
 "font": "DejaVu Sans",
 "view": {"stroke": null},
 "axis": {"grid": false, "domainColor": "#000000", "domainWidth": 2, "tickColor": "#000000", "tickWidth": 2, "tickSize": 8, "labelPadding": 10, "labelFontSize": 15, "labelColor": "#000000", "labelFlush": false, "titleFontSize": 20, "titleFontWeight": "normal", "titleColor": "#000000", "titlePadding": 12, "zindex": 1},
 "title": {"fontSize": 20, "fontWeight": "normal", "color": "#000000", "offset": 12},
 "legend": {"orient": "top-right", "offset": 10, "padding": 7, "cornerRadius": 4, "strokeColor": "#cccccc", "fillColor": "rgba(255,255,255,0.8)", "labelFontSize": 21, "labelColor": "#000000", "symbolOpacity": 1}
}
}
